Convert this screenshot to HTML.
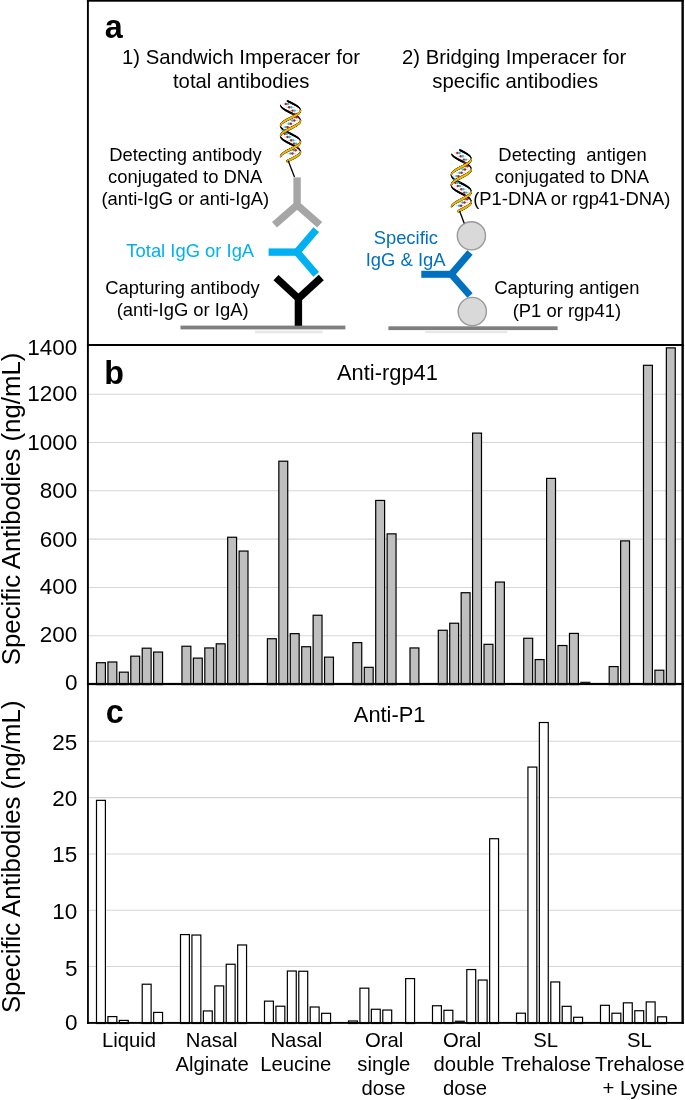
<!DOCTYPE html>
<html><head><meta charset="utf-8"><title>Figure</title>
<style>
html,body{margin:0;padding:0;background:#fff;}
body{width:685px;height:1100px;overflow:hidden;font-family:"Liberation Sans",sans-serif;}
svg{display:block;will-change:transform;}
</style></head><body>
<svg width="685" height="1100" viewBox="0 0 685 1100">
<rect width="685" height="1100" fill="#fff"/>
<line x1="88.0" x2="682.6" y1="635.70" y2="635.70" stroke="#d6d6d6" stroke-width="1.05"/>
<line x1="88.0" x2="682.6" y1="587.40" y2="587.40" stroke="#d6d6d6" stroke-width="1.05"/>
<line x1="88.0" x2="682.6" y1="539.10" y2="539.10" stroke="#d6d6d6" stroke-width="1.05"/>
<line x1="88.0" x2="682.6" y1="490.80" y2="490.80" stroke="#d6d6d6" stroke-width="1.05"/>
<line x1="88.0" x2="682.6" y1="442.50" y2="442.50" stroke="#d6d6d6" stroke-width="1.05"/>
<line x1="88.0" x2="682.6" y1="394.20" y2="394.20" stroke="#d6d6d6" stroke-width="1.05"/>
<line x1="88.0" x2="682.6" y1="966.50" y2="966.50" stroke="#d6d6d6" stroke-width="1.05"/>
<line x1="88.0" x2="682.6" y1="910.20" y2="910.20" stroke="#d6d6d6" stroke-width="1.05"/>
<line x1="88.0" x2="682.6" y1="853.90" y2="853.90" stroke="#d6d6d6" stroke-width="1.05"/>
<line x1="88.0" x2="682.6" y1="797.60" y2="797.60" stroke="#d6d6d6" stroke-width="1.05"/>
<line x1="88.0" x2="682.6" y1="741.30" y2="741.30" stroke="#d6d6d6" stroke-width="1.05"/>
<rect x="96.50" y="662.72" width="8.90" height="21.88" fill="#bfbfbf" stroke="#000" stroke-width="1.2"/>
<rect x="107.93" y="661.99" width="8.90" height="22.61" fill="#bfbfbf" stroke="#000" stroke-width="1.2"/>
<rect x="119.36" y="672.16" width="8.90" height="12.44" fill="#bfbfbf" stroke="#000" stroke-width="1.2"/>
<rect x="130.79" y="656.18" width="8.90" height="28.42" fill="#bfbfbf" stroke="#000" stroke-width="1.2"/>
<rect x="142.22" y="648.19" width="8.90" height="36.41" fill="#bfbfbf" stroke="#000" stroke-width="1.2"/>
<rect x="153.65" y="652.06" width="8.90" height="32.54" fill="#bfbfbf" stroke="#000" stroke-width="1.2"/>
<rect x="181.95" y="646.25" width="8.90" height="38.35" fill="#bfbfbf" stroke="#000" stroke-width="1.2"/>
<rect x="193.38" y="658.12" width="8.90" height="26.48" fill="#bfbfbf" stroke="#000" stroke-width="1.2"/>
<rect x="204.81" y="647.94" width="8.90" height="36.66" fill="#bfbfbf" stroke="#000" stroke-width="1.2"/>
<rect x="216.24" y="643.83" width="8.90" height="40.77" fill="#bfbfbf" stroke="#000" stroke-width="1.2"/>
<rect x="227.67" y="537.26" width="8.90" height="147.34" fill="#bfbfbf" stroke="#000" stroke-width="1.2"/>
<rect x="239.10" y="551.06" width="8.90" height="133.54" fill="#bfbfbf" stroke="#000" stroke-width="1.2"/>
<rect x="267.40" y="638.74" width="8.90" height="45.86" fill="#bfbfbf" stroke="#000" stroke-width="1.2"/>
<rect x="278.83" y="461.21" width="8.90" height="223.39" fill="#bfbfbf" stroke="#000" stroke-width="1.2"/>
<rect x="290.26" y="633.65" width="8.90" height="50.95" fill="#bfbfbf" stroke="#000" stroke-width="1.2"/>
<rect x="301.69" y="646.73" width="8.90" height="37.87" fill="#bfbfbf" stroke="#000" stroke-width="1.2"/>
<rect x="313.12" y="615.25" width="8.90" height="69.35" fill="#bfbfbf" stroke="#000" stroke-width="1.2"/>
<rect x="324.55" y="657.15" width="8.90" height="27.45" fill="#bfbfbf" stroke="#000" stroke-width="1.2"/>
<rect x="352.85" y="642.62" width="8.90" height="41.99" fill="#bfbfbf" stroke="#000" stroke-width="1.2"/>
<rect x="364.28" y="667.32" width="8.90" height="17.28" fill="#bfbfbf" stroke="#000" stroke-width="1.2"/>
<rect x="375.71" y="500.44" width="8.90" height="184.16" fill="#bfbfbf" stroke="#000" stroke-width="1.2"/>
<rect x="387.14" y="533.87" width="8.90" height="150.73" fill="#bfbfbf" stroke="#000" stroke-width="1.2"/>
<rect x="410.00" y="647.94" width="8.90" height="36.66" fill="#bfbfbf" stroke="#000" stroke-width="1.2"/>
<rect x="438.30" y="630.26" width="8.90" height="54.34" fill="#bfbfbf" stroke="#000" stroke-width="1.2"/>
<rect x="449.73" y="623.24" width="8.90" height="61.36" fill="#bfbfbf" stroke="#000" stroke-width="1.2"/>
<rect x="461.16" y="592.72" width="8.90" height="91.88" fill="#bfbfbf" stroke="#000" stroke-width="1.2"/>
<rect x="472.59" y="433.11" width="8.90" height="251.49" fill="#bfbfbf" stroke="#000" stroke-width="1.2"/>
<rect x="484.02" y="644.31" width="8.90" height="40.29" fill="#bfbfbf" stroke="#000" stroke-width="1.2"/>
<rect x="495.45" y="582.06" width="8.90" height="102.54" fill="#bfbfbf" stroke="#000" stroke-width="1.2"/>
<rect x="523.75" y="638.26" width="8.90" height="46.34" fill="#bfbfbf" stroke="#000" stroke-width="1.2"/>
<rect x="535.18" y="659.57" width="8.90" height="25.03" fill="#bfbfbf" stroke="#000" stroke-width="1.2"/>
<rect x="546.61" y="478.40" width="8.90" height="206.20" fill="#bfbfbf" stroke="#000" stroke-width="1.2"/>
<rect x="558.04" y="645.52" width="8.90" height="39.08" fill="#bfbfbf" stroke="#000" stroke-width="1.2"/>
<rect x="569.47" y="633.41" width="8.90" height="51.19" fill="#bfbfbf" stroke="#000" stroke-width="1.2"/>
<rect x="580.30" y="681.70" width="10.1" height="1.5" fill="#222"/>
<rect x="609.20" y="666.59" width="8.90" height="18.01" fill="#bfbfbf" stroke="#000" stroke-width="1.2"/>
<rect x="620.63" y="540.89" width="8.90" height="143.71" fill="#bfbfbf" stroke="#000" stroke-width="1.2"/>
<rect x="643.49" y="365.30" width="8.90" height="319.30" fill="#bfbfbf" stroke="#000" stroke-width="1.2"/>
<rect x="654.92" y="670.23" width="8.90" height="14.37" fill="#bfbfbf" stroke="#000" stroke-width="1.2"/>
<rect x="666.35" y="347.86" width="8.90" height="336.74" fill="#bfbfbf" stroke="#000" stroke-width="1.2"/>
<rect x="96.50" y="800.36" width="8.90" height="223.14" fill="#ffffff" stroke="#000" stroke-width="1.2"/>
<rect x="107.93" y="1016.59" width="8.90" height="6.91" fill="#ffffff" stroke="#000" stroke-width="1.2"/>
<rect x="119.36" y="1020.43" width="8.90" height="3.07" fill="#ffffff" stroke="#000" stroke-width="1.2"/>
<rect x="142.22" y="984.22" width="8.90" height="39.28" fill="#ffffff" stroke="#000" stroke-width="1.2"/>
<rect x="153.65" y="1012.42" width="8.90" height="11.08" fill="#ffffff" stroke="#000" stroke-width="1.2"/>
<rect x="180.50" y="934.59" width="8.90" height="88.91" fill="#ffffff" stroke="#000" stroke-width="1.2"/>
<rect x="191.93" y="935.04" width="8.90" height="88.46" fill="#ffffff" stroke="#000" stroke-width="1.2"/>
<rect x="203.36" y="1010.95" width="8.90" height="12.55" fill="#ffffff" stroke="#000" stroke-width="1.2"/>
<rect x="214.79" y="985.91" width="8.90" height="37.59" fill="#ffffff" stroke="#000" stroke-width="1.2"/>
<rect x="226.22" y="964.25" width="8.90" height="59.25" fill="#ffffff" stroke="#000" stroke-width="1.2"/>
<rect x="237.65" y="944.97" width="8.90" height="78.53" fill="#ffffff" stroke="#000" stroke-width="1.2"/>
<rect x="264.50" y="1001.14" width="8.90" height="22.36" fill="#ffffff" stroke="#000" stroke-width="1.2"/>
<rect x="275.93" y="1006.22" width="8.90" height="17.28" fill="#ffffff" stroke="#000" stroke-width="1.2"/>
<rect x="287.36" y="971.02" width="8.90" height="52.48" fill="#ffffff" stroke="#000" stroke-width="1.2"/>
<rect x="298.79" y="971.25" width="8.90" height="52.25" fill="#ffffff" stroke="#000" stroke-width="1.2"/>
<rect x="310.22" y="1007.01" width="8.90" height="16.49" fill="#ffffff" stroke="#000" stroke-width="1.2"/>
<rect x="321.65" y="1013.32" width="8.90" height="10.18" fill="#ffffff" stroke="#000" stroke-width="1.2"/>
<rect x="348.50" y="1020.99" width="8.90" height="2.51" fill="#ffffff" stroke="#000" stroke-width="1.2"/>
<rect x="359.93" y="988.17" width="8.90" height="35.33" fill="#ffffff" stroke="#000" stroke-width="1.2"/>
<rect x="371.36" y="1009.26" width="8.90" height="14.24" fill="#ffffff" stroke="#000" stroke-width="1.2"/>
<rect x="382.79" y="1010.05" width="8.90" height="13.45" fill="#ffffff" stroke="#000" stroke-width="1.2"/>
<rect x="405.65" y="978.58" width="8.90" height="44.92" fill="#ffffff" stroke="#000" stroke-width="1.2"/>
<rect x="432.50" y="1005.76" width="8.90" height="17.74" fill="#ffffff" stroke="#000" stroke-width="1.2"/>
<rect x="443.93" y="1010.28" width="8.90" height="13.22" fill="#ffffff" stroke="#000" stroke-width="1.2"/>
<rect x="454.76" y="1020.60" width="10.1" height="1.5" fill="#222"/>
<rect x="466.79" y="969.56" width="8.90" height="53.94" fill="#ffffff" stroke="#000" stroke-width="1.2"/>
<rect x="478.22" y="980.05" width="8.90" height="43.45" fill="#ffffff" stroke="#000" stroke-width="1.2"/>
<rect x="489.65" y="838.71" width="8.90" height="184.79" fill="#ffffff" stroke="#000" stroke-width="1.2"/>
<rect x="516.50" y="1013.21" width="8.90" height="10.29" fill="#ffffff" stroke="#000" stroke-width="1.2"/>
<rect x="527.93" y="767.08" width="8.90" height="256.42" fill="#ffffff" stroke="#000" stroke-width="1.2"/>
<rect x="539.36" y="722.52" width="8.90" height="300.98" fill="#ffffff" stroke="#000" stroke-width="1.2"/>
<rect x="550.79" y="981.96" width="8.90" height="41.54" fill="#ffffff" stroke="#000" stroke-width="1.2"/>
<rect x="562.22" y="1006.33" width="8.90" height="17.17" fill="#ffffff" stroke="#000" stroke-width="1.2"/>
<rect x="573.65" y="1017.27" width="8.90" height="6.23" fill="#ffffff" stroke="#000" stroke-width="1.2"/>
<rect x="600.50" y="1005.31" width="8.90" height="18.19" fill="#ffffff" stroke="#000" stroke-width="1.2"/>
<rect x="611.93" y="1013.21" width="8.90" height="10.29" fill="#ffffff" stroke="#000" stroke-width="1.2"/>
<rect x="623.36" y="1002.83" width="8.90" height="20.67" fill="#ffffff" stroke="#000" stroke-width="1.2"/>
<rect x="634.79" y="1010.73" width="8.90" height="12.77" fill="#ffffff" stroke="#000" stroke-width="1.2"/>
<rect x="646.22" y="1001.93" width="8.90" height="21.57" fill="#ffffff" stroke="#000" stroke-width="1.2"/>
<rect x="657.65" y="1016.82" width="8.90" height="6.68" fill="#ffffff" stroke="#000" stroke-width="1.2"/>
<rect x="86.9" y="0" width="597.00" height="1.7" fill="#000"/>
<rect x="86.95" y="0" width="1.9" height="684.0" fill="#000"/>
<rect x="87.05" y="684.0" width="1.8" height="339.85" fill="#000"/>
<rect x="681.45" y="0" width="2.4" height="1023.85" fill="#000"/>
<rect x="86.95" y="344.00" width="596.90" height="2.0" fill="#000"/>
<rect x="86.95" y="682.90" width="596.90" height="2.2" fill="#000"/>
<rect x="86.95" y="1021.95" width="596.90" height="1.9" fill="#000"/>
<text x="77.4" y="355" font-size="22.5" text-anchor="end" font-family="Liberation Sans, sans-serif">1400</text>
<text x="77.4" y="401" font-size="22.5" text-anchor="end" font-family="Liberation Sans, sans-serif">1200</text>
<text x="77.4" y="450" font-size="22.5" text-anchor="end" font-family="Liberation Sans, sans-serif">1000</text>
<text x="77.4" y="498" font-size="22.5" text-anchor="end" font-family="Liberation Sans, sans-serif">800</text>
<text x="77.4" y="547" font-size="22.5" text-anchor="end" font-family="Liberation Sans, sans-serif">600</text>
<text x="77.4" y="594" font-size="22.5" text-anchor="end" font-family="Liberation Sans, sans-serif">400</text>
<text x="77.4" y="642" font-size="22.5" text-anchor="end" font-family="Liberation Sans, sans-serif">200</text>
<text x="77.4" y="690" font-size="22.5" text-anchor="end" font-family="Liberation Sans, sans-serif">0</text>
<text x="77.4" y="750" font-size="22.5" text-anchor="end" font-family="Liberation Sans, sans-serif">25</text>
<text x="77.4" y="806" font-size="22.5" text-anchor="end" font-family="Liberation Sans, sans-serif">20</text>
<text x="77.4" y="862" font-size="22.5" text-anchor="end" font-family="Liberation Sans, sans-serif">15</text>
<text x="77.4" y="919" font-size="22.5" text-anchor="end" font-family="Liberation Sans, sans-serif">10</text>
<text x="77.4" y="976" font-size="22.5" text-anchor="end" font-family="Liberation Sans, sans-serif">5</text>
<text x="77.4" y="1030" font-size="22.5" text-anchor="end" font-family="Liberation Sans, sans-serif">0</text>
<text transform="translate(20.2,508.9) rotate(-90)" font-size="25.8" text-anchor="middle" font-family="Liberation Sans, sans-serif">Specific Antibodies (ng/mL)</text>
<text transform="translate(19.6,856.8) rotate(-90)" font-size="25.8" text-anchor="middle" font-family="Liberation Sans, sans-serif">Specific Antibodies (ng/mL)</text>
<text x="104.77" y="38.3" font-size="32.3" fill="#000" font-weight="bold" font-family="Liberation Sans, sans-serif" style="white-space:pre">a</text>
<text x="104.28" y="383.9" font-size="32.3" fill="#000" font-weight="bold" font-family="Liberation Sans, sans-serif" style="white-space:pre">b</text>
<text x="105.66" y="723.3" font-size="32.3" fill="#000" font-weight="bold" font-family="Liberation Sans, sans-serif" style="white-space:pre">c</text>
<text x="337.05" y="379.8" font-size="21.85" fill="#000" font-family="Liberation Sans, sans-serif" style="white-space:pre">Anti-rgp41</text>
<text x="353.83" y="722.3" font-size="21.85" fill="#000" font-family="Liberation Sans, sans-serif" style="white-space:pre">Anti-P1</text>
<text x="101.92" y="1046.6" font-size="20.3" fill="#000" font-family="Liberation Sans, sans-serif" style="white-space:pre">Liquid</text>
<text x="185.77" y="1046.6" font-size="20.3" fill="#000" font-family="Liberation Sans, sans-serif" style="white-space:pre">Nasal</text>
<text x="175.44" y="1071.2" font-size="20.3" fill="#000" font-family="Liberation Sans, sans-serif" style="white-space:pre">Alginate</text>
<text x="270.47" y="1046.6" font-size="20.3" fill="#000" font-family="Liberation Sans, sans-serif" style="white-space:pre">Nasal</text>
<text x="260.20" y="1071.2" font-size="20.3" fill="#000" font-family="Liberation Sans, sans-serif" style="white-space:pre">Leucine</text>
<text x="365.05" y="1046.6" font-size="20.3" fill="#000" font-family="Liberation Sans, sans-serif" style="white-space:pre">Oral</text>
<text x="357.34" y="1071.2" font-size="20.3" fill="#000" font-family="Liberation Sans, sans-serif" style="white-space:pre">single</text>
<text x="361.45" y="1095.0" font-size="20.3" fill="#000" font-family="Liberation Sans, sans-serif" style="white-space:pre">dose</text>
<text x="442.95" y="1046.6" font-size="20.3" fill="#000" font-family="Liberation Sans, sans-serif" style="white-space:pre">Oral</text>
<text x="433.58" y="1071.2" font-size="20.3" fill="#000" font-family="Liberation Sans, sans-serif" style="white-space:pre">double</text>
<text x="442.95" y="1095.0" font-size="20.3" fill="#000" font-family="Liberation Sans, sans-serif" style="white-space:pre">dose</text>
<text x="533.34" y="1046.6" font-size="20.3" fill="#000" font-family="Liberation Sans, sans-serif" style="white-space:pre">SL</text>
<text x="501.61" y="1071.2" font-size="20.3" fill="#000" font-family="Liberation Sans, sans-serif" style="white-space:pre">Trehalose</text>
<text x="627.09" y="1046.6" font-size="20.3" fill="#000" font-family="Liberation Sans, sans-serif" style="white-space:pre">SL</text>
<text x="595.06" y="1071.2" font-size="20.3" fill="#000" font-family="Liberation Sans, sans-serif" style="white-space:pre">Trehalose</text>
<text x="602.45" y="1095.0" font-size="20.3" fill="#000" font-family="Liberation Sans, sans-serif" style="white-space:pre">+ Lysine</text>
<text x="122.09" y="64" font-size="20.3" fill="#000" font-family="Liberation Sans, sans-serif" style="white-space:pre">1) Sandwich Imperacer for</text>
<text x="172.97" y="88" font-size="20.3" fill="#000" font-family="Liberation Sans, sans-serif" style="white-space:pre">total antibodies</text>
<text x="402.06" y="64" font-size="20.3" fill="#000" font-family="Liberation Sans, sans-serif" style="white-space:pre">2) Bridging Imperacer for</text>
<text x="432.31" y="88" font-size="20.3" fill="#000" font-family="Liberation Sans, sans-serif" style="white-space:pre">specific antibodies</text>
<text x="109.26" y="160.8" font-size="18.4" fill="#000" font-family="Liberation Sans, sans-serif" style="white-space:pre">Detecting antibody</text>
<text x="108.03" y="183.2" font-size="18.4" fill="#000" font-family="Liberation Sans, sans-serif" style="white-space:pre">conjugated to DNA</text>
<text x="101.48" y="205.2" font-size="18.4" fill="#000" font-family="Liberation Sans, sans-serif" style="white-space:pre">(anti-IgG or anti-IgA)</text>
<text x="126.37" y="257" font-size="18.4" fill="#00b0f0" font-family="Liberation Sans, sans-serif" style="white-space:pre">Total IgG or IgA</text>
<text x="105.31" y="294.4" font-size="18.4" fill="#000" font-family="Liberation Sans, sans-serif" style="white-space:pre">Capturing antibody</text>
<text x="116.73" y="316.4" font-size="18.4" fill="#000" font-family="Liberation Sans, sans-serif" style="white-space:pre">(anti-IgG or IgA)</text>
<text x="498.37" y="161.1" font-size="18.4" fill="#000" font-family="Liberation Sans, sans-serif" style="white-space:pre">Detecting  antigen</text>
<text x="494.78" y="182.8" font-size="18.4" fill="#000" font-family="Liberation Sans, sans-serif" style="white-space:pre">conjugated to DNA</text>
<text x="473.16" y="204.8" font-size="18.4" fill="#000" font-family="Liberation Sans, sans-serif" style="white-space:pre">(P1-DNA or rgp41-DNA)</text>
<text x="494.23" y="294.4" font-size="18.4" fill="#000" font-family="Liberation Sans, sans-serif" style="white-space:pre">Capturing antigen</text>
<text x="512.73" y="316.6" font-size="18.4" fill="#000" font-family="Liberation Sans, sans-serif" style="white-space:pre">(P1 or rgp41)</text>
<text x="373.65" y="243.6" font-size="18.4" fill="#0070c0" font-family="Liberation Sans, sans-serif" style="white-space:pre">Specific</text>
<text x="365.76" y="265.8" font-size="18.4" fill="#0070c0" font-family="Liberation Sans, sans-serif" style="white-space:pre">IgG &amp; IgA</text>
<rect x="180.5" y="325.6" width="164.9" height="3.8" fill="#7f7f7f"/>
<rect x="255" y="330.6" width="67.5" height="2.8" fill="#e8e8e8"/>
<rect x="388.4" y="326.3" width="169.2" height="3.8" fill="#7f7f7f"/>
<rect x="425.2" y="331" width="82" height="2.2" fill="#e8e8e8"/>
<line x1="297.1" y1="177.4" x2="297.1" y2="207.5" stroke="#a6a6a6" stroke-width="7.4"/>
<line x1="297.1" y1="205.0" x2="274.5" y2="224.7" stroke="#a6a6a6" stroke-width="7.4"/>
<line x1="297.1" y1="205.0" x2="319.7" y2="224.7" stroke="#a6a6a6" stroke-width="7.4"/>
<line x1="268.6" y1="252.1" x2="299" y2="252.1" stroke="#00b0f0" stroke-width="7.4"/>
<line x1="297.0" y1="252.1" x2="316.2" y2="229.6" stroke="#00b0f0" stroke-width="7.4"/>
<line x1="297.0" y1="252.1" x2="316.2" y2="274.4" stroke="#00b0f0" stroke-width="7.4"/>
<line x1="298.4" y1="325.8" x2="298.4" y2="296" stroke="#000" stroke-width="7.4"/>
<line x1="298.4" y1="298.4" x2="276.0" y2="277.6" stroke="#000" stroke-width="7.4"/>
<line x1="298.4" y1="298.4" x2="321.3" y2="277.6" stroke="#000" stroke-width="7.4"/>
<line x1="421.3" y1="274.3" x2="453" y2="274.3" stroke="#0070c0" stroke-width="7.0"/>
<line x1="451.3" y1="274.3" x2="470" y2="252.4" stroke="#0070c0" stroke-width="7.0"/>
<line x1="451.3" y1="274.3" x2="470" y2="295.5" stroke="#0070c0" stroke-width="7.0"/>
<circle cx="471.4" cy="235.8" r="14.1" fill="#d9d9d9" stroke="#9a9a9a" stroke-width="1.4"/>
<circle cx="472.3" cy="311.5" r="14.1" fill="#d9d9d9" stroke="#9a9a9a" stroke-width="1.4"/>
<line x1="287.52" y1="101.00" x2="288.30" y2="101.40" stroke="#000" stroke-width="1.87" stroke-linecap="round"/>
<line x1="288.30" y1="101.40" x2="289.10" y2="101.80" stroke="#000" stroke-width="1.89" stroke-linecap="round"/>
<line x1="289.10" y1="101.80" x2="289.90" y2="102.20" stroke="#000" stroke-width="1.90" stroke-linecap="round"/>
<line x1="289.90" y1="102.20" x2="290.71" y2="102.60" stroke="#000" stroke-width="1.90" stroke-linecap="round"/>
<line x1="290.71" y1="102.60" x2="291.51" y2="103.00" stroke="#000" stroke-width="1.89" stroke-linecap="round"/>
<line x1="291.51" y1="103.00" x2="292.31" y2="103.40" stroke="#000" stroke-width="1.88" stroke-linecap="round"/>
<line x1="292.31" y1="103.40" x2="293.10" y2="103.81" stroke="#000" stroke-width="1.86" stroke-linecap="round"/>
<line x1="293.10" y1="103.81" x2="293.87" y2="104.21" stroke="#000" stroke-width="1.82" stroke-linecap="round"/>
<line x1="293.87" y1="104.21" x2="294.62" y2="104.61" stroke="#000" stroke-width="1.78" stroke-linecap="round"/>
<line x1="294.62" y1="104.61" x2="295.34" y2="105.01" stroke="#000" stroke-width="1.74" stroke-linecap="round"/>
<line x1="295.34" y1="105.01" x2="296.03" y2="105.41" stroke="#000" stroke-width="1.68" stroke-linecap="round"/>
<line x1="296.03" y1="105.41" x2="296.68" y2="105.81" stroke="#000" stroke-width="1.62" stroke-linecap="round"/>
<line x1="296.68" y1="105.81" x2="297.29" y2="106.21" stroke="#000" stroke-width="1.55" stroke-linecap="round"/>
<line x1="297.29" y1="106.21" x2="297.86" y2="106.61" stroke="#000" stroke-width="1.48" stroke-linecap="round"/>
<line x1="297.86" y1="106.61" x2="298.39" y2="107.01" stroke="#000" stroke-width="1.40" stroke-linecap="round"/>
<line x1="298.39" y1="107.01" x2="298.86" y2="107.41" stroke="#000" stroke-width="1.31" stroke-linecap="round"/>
<line x1="298.86" y1="107.41" x2="299.27" y2="107.81" stroke="#000" stroke-width="1.22" stroke-linecap="round"/>
<line x1="299.27" y1="107.81" x2="299.63" y2="108.21" stroke="#000" stroke-width="1.13" stroke-linecap="round"/>
<line x1="299.63" y1="108.21" x2="299.93" y2="108.61" stroke="#000" stroke-width="1.03" stroke-linecap="round"/>
<line x1="299.93" y1="108.61" x2="300.17" y2="109.01" stroke="#000" stroke-width="0.93" stroke-linecap="round"/>
<line x1="300.17" y1="109.01" x2="300.34" y2="109.42" stroke="#000" stroke-width="0.83" stroke-linecap="round"/>
<line x1="300.34" y1="109.42" x2="300.45" y2="109.82" stroke="#000" stroke-width="0.73" stroke-linecap="round"/>
<line x1="300.45" y1="109.82" x2="300.50" y2="110.22" stroke="#000" stroke-width="0.62" stroke-linecap="round"/>
<line x1="280.50" y1="125.84" x2="280.52" y2="126.25" stroke="#000" stroke-width="0.69" stroke-linecap="round"/>
<line x1="280.52" y1="126.25" x2="280.61" y2="126.65" stroke="#000" stroke-width="0.79" stroke-linecap="round"/>
<line x1="280.61" y1="126.65" x2="280.77" y2="127.05" stroke="#000" stroke-width="0.90" stroke-linecap="round"/>
<line x1="280.77" y1="127.05" x2="280.98" y2="127.45" stroke="#000" stroke-width="1.00" stroke-linecap="round"/>
<line x1="280.98" y1="127.45" x2="281.26" y2="127.85" stroke="#000" stroke-width="1.10" stroke-linecap="round"/>
<line x1="281.26" y1="127.85" x2="281.60" y2="128.25" stroke="#000" stroke-width="1.19" stroke-linecap="round"/>
<line x1="281.60" y1="128.25" x2="281.99" y2="128.65" stroke="#000" stroke-width="1.28" stroke-linecap="round"/>
<line x1="281.99" y1="128.65" x2="282.45" y2="129.05" stroke="#000" stroke-width="1.37" stroke-linecap="round"/>
<line x1="282.45" y1="129.05" x2="282.95" y2="129.45" stroke="#000" stroke-width="1.45" stroke-linecap="round"/>
<line x1="282.95" y1="129.45" x2="283.50" y2="129.85" stroke="#000" stroke-width="1.53" stroke-linecap="round"/>
<line x1="283.50" y1="129.85" x2="284.10" y2="130.25" stroke="#000" stroke-width="1.60" stroke-linecap="round"/>
<line x1="284.10" y1="130.25" x2="284.74" y2="130.65" stroke="#000" stroke-width="1.66" stroke-linecap="round"/>
<line x1="284.74" y1="130.65" x2="285.42" y2="131.05" stroke="#000" stroke-width="1.72" stroke-linecap="round"/>
<line x1="285.42" y1="131.05" x2="286.13" y2="131.45" stroke="#000" stroke-width="1.77" stroke-linecap="round"/>
<line x1="286.13" y1="131.45" x2="286.87" y2="131.86" stroke="#000" stroke-width="1.81" stroke-linecap="round"/>
<line x1="286.87" y1="131.86" x2="287.63" y2="132.26" stroke="#000" stroke-width="1.85" stroke-linecap="round"/>
<line x1="287.63" y1="132.26" x2="288.41" y2="132.66" stroke="#000" stroke-width="1.87" stroke-linecap="round"/>
<line x1="288.41" y1="132.66" x2="289.21" y2="133.06" stroke="#000" stroke-width="1.89" stroke-linecap="round"/>
<line x1="289.21" y1="133.06" x2="290.01" y2="133.46" stroke="#000" stroke-width="1.90" stroke-linecap="round"/>
<line x1="290.01" y1="133.46" x2="290.82" y2="133.86" stroke="#000" stroke-width="1.90" stroke-linecap="round"/>
<line x1="290.82" y1="133.86" x2="291.62" y2="134.26" stroke="#000" stroke-width="1.89" stroke-linecap="round"/>
<line x1="291.62" y1="134.26" x2="292.42" y2="134.66" stroke="#000" stroke-width="1.88" stroke-linecap="round"/>
<line x1="292.42" y1="134.66" x2="293.21" y2="135.06" stroke="#000" stroke-width="1.85" stroke-linecap="round"/>
<line x1="293.21" y1="135.06" x2="293.97" y2="135.46" stroke="#000" stroke-width="1.82" stroke-linecap="round"/>
<line x1="293.97" y1="135.46" x2="294.72" y2="135.86" stroke="#000" stroke-width="1.78" stroke-linecap="round"/>
<line x1="294.72" y1="135.86" x2="295.44" y2="136.26" stroke="#000" stroke-width="1.73" stroke-linecap="round"/>
<line x1="295.44" y1="136.26" x2="296.12" y2="136.66" stroke="#000" stroke-width="1.68" stroke-linecap="round"/>
<line x1="296.12" y1="136.66" x2="296.77" y2="137.06" stroke="#000" stroke-width="1.61" stroke-linecap="round"/>
<line x1="296.77" y1="137.06" x2="297.38" y2="137.47" stroke="#000" stroke-width="1.54" stroke-linecap="round"/>
<line x1="297.38" y1="137.47" x2="297.94" y2="137.87" stroke="#000" stroke-width="1.47" stroke-linecap="round"/>
<line x1="297.94" y1="137.87" x2="298.45" y2="138.27" stroke="#000" stroke-width="1.39" stroke-linecap="round"/>
<line x1="298.45" y1="138.27" x2="298.92" y2="138.67" stroke="#000" stroke-width="1.30" stroke-linecap="round"/>
<line x1="298.92" y1="138.67" x2="299.32" y2="139.07" stroke="#000" stroke-width="1.21" stroke-linecap="round"/>
<line x1="299.32" y1="139.07" x2="299.68" y2="139.47" stroke="#000" stroke-width="1.12" stroke-linecap="round"/>
<line x1="299.68" y1="139.47" x2="299.97" y2="139.87" stroke="#000" stroke-width="1.02" stroke-linecap="round"/>
<line x1="299.97" y1="139.87" x2="300.20" y2="140.27" stroke="#000" stroke-width="0.92" stroke-linecap="round"/>
<line x1="300.20" y1="140.27" x2="300.36" y2="140.67" stroke="#000" stroke-width="0.82" stroke-linecap="round"/>
<line x1="300.36" y1="140.67" x2="300.46" y2="141.07" stroke="#000" stroke-width="0.71" stroke-linecap="round"/>
<line x1="300.46" y1="141.07" x2="300.50" y2="141.47" stroke="#000" stroke-width="0.61" stroke-linecap="round"/>
<line x1="280.50" y1="105.00" x2="280.55" y2="105.40" stroke="#000" stroke-width="0.73" stroke-linecap="round"/>
<line x1="280.55" y1="105.40" x2="280.66" y2="105.80" stroke="#000" stroke-width="0.84" stroke-linecap="round"/>
<line x1="280.66" y1="105.80" x2="280.84" y2="106.20" stroke="#000" stroke-width="0.94" stroke-linecap="round"/>
<line x1="280.84" y1="106.20" x2="281.08" y2="106.61" stroke="#000" stroke-width="1.04" stroke-linecap="round"/>
<line x1="281.08" y1="106.61" x2="281.39" y2="107.01" stroke="#000" stroke-width="1.14" stroke-linecap="round"/>
<line x1="281.39" y1="107.01" x2="281.75" y2="107.41" stroke="#000" stroke-width="1.23" stroke-linecap="round"/>
<line x1="281.75" y1="107.41" x2="282.17" y2="107.81" stroke="#000" stroke-width="1.32" stroke-linecap="round"/>
<line x1="282.17" y1="107.81" x2="282.64" y2="108.21" stroke="#000" stroke-width="1.40" stroke-linecap="round"/>
<line x1="282.64" y1="108.21" x2="283.17" y2="108.61" stroke="#000" stroke-width="1.48" stroke-linecap="round"/>
<line x1="283.17" y1="108.61" x2="283.74" y2="109.01" stroke="#000" stroke-width="1.56" stroke-linecap="round"/>
<line x1="283.74" y1="109.01" x2="284.36" y2="109.42" stroke="#000" stroke-width="1.63" stroke-linecap="round"/>
<line x1="284.36" y1="109.42" x2="285.02" y2="109.82" stroke="#000" stroke-width="1.69" stroke-linecap="round"/>
<line x1="285.02" y1="109.82" x2="285.71" y2="110.22" stroke="#000" stroke-width="1.74" stroke-linecap="round"/>
<line x1="285.71" y1="110.22" x2="286.43" y2="110.62" stroke="#000" stroke-width="1.79" stroke-linecap="round"/>
<line x1="286.43" y1="110.62" x2="287.18" y2="111.02" stroke="#000" stroke-width="1.83" stroke-linecap="round"/>
<line x1="287.18" y1="111.02" x2="287.96" y2="111.42" stroke="#000" stroke-width="1.86" stroke-linecap="round"/>
<line x1="287.96" y1="111.42" x2="288.75" y2="111.82" stroke="#000" stroke-width="1.88" stroke-linecap="round"/>
<line x1="288.75" y1="111.82" x2="289.55" y2="112.23" stroke="#000" stroke-width="1.89" stroke-linecap="round"/>
<line x1="289.55" y1="112.23" x2="290.35" y2="112.63" stroke="#000" stroke-width="1.90" stroke-linecap="round"/>
<line x1="290.35" y1="112.63" x2="291.16" y2="113.03" stroke="#000" stroke-width="1.90" stroke-linecap="round"/>
<line x1="291.16" y1="113.03" x2="291.96" y2="113.43" stroke="#000" stroke-width="1.89" stroke-linecap="round"/>
<line x1="291.96" y1="113.43" x2="292.76" y2="113.83" stroke="#000" stroke-width="1.87" stroke-linecap="round"/>
<line x1="292.76" y1="113.83" x2="293.54" y2="114.23" stroke="#000" stroke-width="1.84" stroke-linecap="round"/>
<line x1="293.54" y1="114.23" x2="294.30" y2="114.63" stroke="#000" stroke-width="1.80" stroke-linecap="round"/>
<line x1="294.30" y1="114.63" x2="295.03" y2="115.04" stroke="#000" stroke-width="1.76" stroke-linecap="round"/>
<line x1="295.03" y1="115.04" x2="295.74" y2="115.44" stroke="#000" stroke-width="1.71" stroke-linecap="round"/>
<line x1="295.74" y1="115.44" x2="296.41" y2="115.84" stroke="#000" stroke-width="1.65" stroke-linecap="round"/>
<line x1="296.41" y1="115.84" x2="297.04" y2="116.24" stroke="#000" stroke-width="1.58" stroke-linecap="round"/>
<line x1="297.04" y1="116.24" x2="297.63" y2="116.64" stroke="#000" stroke-width="1.51" stroke-linecap="round"/>
<line x1="297.63" y1="116.64" x2="298.17" y2="117.04" stroke="#000" stroke-width="1.43" stroke-linecap="round"/>
<line x1="298.17" y1="117.04" x2="298.67" y2="117.44" stroke="#000" stroke-width="1.35" stroke-linecap="round"/>
<line x1="298.67" y1="117.44" x2="299.11" y2="117.85" stroke="#000" stroke-width="1.26" stroke-linecap="round"/>
<line x1="299.11" y1="117.85" x2="299.49" y2="118.25" stroke="#000" stroke-width="1.17" stroke-linecap="round"/>
<line x1="299.49" y1="118.25" x2="299.81" y2="118.65" stroke="#000" stroke-width="1.07" stroke-linecap="round"/>
<line x1="299.81" y1="118.65" x2="300.08" y2="119.05" stroke="#000" stroke-width="0.97" stroke-linecap="round"/>
<line x1="300.08" y1="119.05" x2="300.28" y2="119.45" stroke="#000" stroke-width="0.87" stroke-linecap="round"/>
<line x1="300.28" y1="119.45" x2="300.42" y2="119.85" stroke="#000" stroke-width="0.77" stroke-linecap="round"/>
<line x1="300.42" y1="119.85" x2="300.49" y2="120.25" stroke="#000" stroke-width="0.66" stroke-linecap="round"/>
<line x1="280.51" y1="135.91" x2="280.51" y2="136.31" stroke="#000" stroke-width="0.66" stroke-linecap="round"/>
<line x1="280.51" y1="136.31" x2="280.58" y2="136.71" stroke="#000" stroke-width="0.76" stroke-linecap="round"/>
<line x1="280.58" y1="136.71" x2="280.71" y2="137.11" stroke="#000" stroke-width="0.86" stroke-linecap="round"/>
<line x1="280.71" y1="137.11" x2="280.90" y2="137.52" stroke="#000" stroke-width="0.97" stroke-linecap="round"/>
<line x1="280.90" y1="137.52" x2="281.16" y2="137.92" stroke="#000" stroke-width="1.07" stroke-linecap="round"/>
<line x1="281.16" y1="137.92" x2="281.48" y2="138.32" stroke="#000" stroke-width="1.16" stroke-linecap="round"/>
<line x1="281.48" y1="138.32" x2="281.86" y2="138.72" stroke="#000" stroke-width="1.25" stroke-linecap="round"/>
<line x1="281.86" y1="138.72" x2="282.29" y2="139.12" stroke="#000" stroke-width="1.34" stroke-linecap="round"/>
<line x1="282.29" y1="139.12" x2="282.78" y2="139.52" stroke="#000" stroke-width="1.43" stroke-linecap="round"/>
<line x1="282.78" y1="139.52" x2="283.32" y2="139.92" stroke="#000" stroke-width="1.51" stroke-linecap="round"/>
<line x1="283.32" y1="139.92" x2="283.91" y2="140.33" stroke="#000" stroke-width="1.58" stroke-linecap="round"/>
<line x1="283.91" y1="140.33" x2="284.54" y2="140.73" stroke="#000" stroke-width="1.64" stroke-linecap="round"/>
<line x1="284.54" y1="140.73" x2="285.20" y2="141.13" stroke="#000" stroke-width="1.70" stroke-linecap="round"/>
<line x1="285.20" y1="141.13" x2="285.91" y2="141.53" stroke="#000" stroke-width="1.75" stroke-linecap="round"/>
<line x1="285.91" y1="141.53" x2="286.64" y2="141.93" stroke="#000" stroke-width="1.80" stroke-linecap="round"/>
<line x1="286.64" y1="141.93" x2="287.40" y2="142.33" stroke="#000" stroke-width="1.84" stroke-linecap="round"/>
<line x1="287.40" y1="142.33" x2="288.17" y2="142.73" stroke="#000" stroke-width="1.86" stroke-linecap="round"/>
<line x1="288.17" y1="142.73" x2="288.97" y2="143.14" stroke="#000" stroke-width="1.88" stroke-linecap="round"/>
<line x1="288.97" y1="143.14" x2="289.77" y2="143.54" stroke="#000" stroke-width="1.90" stroke-linecap="round"/>
<line x1="289.77" y1="143.54" x2="290.58" y2="143.94" stroke="#000" stroke-width="1.90" stroke-linecap="round"/>
<line x1="290.58" y1="143.94" x2="291.38" y2="144.34" stroke="#000" stroke-width="1.89" stroke-linecap="round"/>
<line x1="291.38" y1="144.34" x2="292.19" y2="144.74" stroke="#000" stroke-width="1.88" stroke-linecap="round"/>
<line x1="292.19" y1="144.74" x2="292.98" y2="145.14" stroke="#000" stroke-width="1.86" stroke-linecap="round"/>
<line x1="292.98" y1="145.14" x2="293.75" y2="145.54" stroke="#000" stroke-width="1.83" stroke-linecap="round"/>
<line x1="293.75" y1="145.54" x2="294.50" y2="145.95" stroke="#000" stroke-width="1.79" stroke-linecap="round"/>
<line x1="294.50" y1="145.95" x2="295.23" y2="146.35" stroke="#000" stroke-width="1.75" stroke-linecap="round"/>
<line x1="295.23" y1="146.35" x2="295.93" y2="146.75" stroke="#000" stroke-width="1.69" stroke-linecap="round"/>
<line x1="295.93" y1="146.75" x2="296.59" y2="147.15" stroke="#000" stroke-width="1.63" stroke-linecap="round"/>
<line x1="296.59" y1="147.15" x2="297.21" y2="147.55" stroke="#000" stroke-width="1.56" stroke-linecap="round"/>
<line x1="297.21" y1="147.55" x2="297.79" y2="147.95" stroke="#000" stroke-width="1.49" stroke-linecap="round"/>
<line x1="297.79" y1="147.95" x2="298.31" y2="148.35" stroke="#000" stroke-width="1.41" stroke-linecap="round"/>
<line x1="298.31" y1="148.35" x2="298.79" y2="148.76" stroke="#000" stroke-width="1.33" stroke-linecap="round"/>
<line x1="298.79" y1="148.76" x2="299.22" y2="149.16" stroke="#000" stroke-width="1.24" stroke-linecap="round"/>
<line x1="299.22" y1="149.16" x2="299.58" y2="149.56" stroke="#000" stroke-width="1.14" stroke-linecap="round"/>
<line x1="299.58" y1="149.56" x2="299.89" y2="149.96" stroke="#000" stroke-width="1.05" stroke-linecap="round"/>
<line x1="299.89" y1="149.96" x2="300.14" y2="150.36" stroke="#000" stroke-width="0.95" stroke-linecap="round"/>
<line x1="300.14" y1="150.36" x2="300.32" y2="150.76" stroke="#000" stroke-width="0.84" stroke-linecap="round"/>
<line x1="300.32" y1="150.76" x2="300.44" y2="151.16" stroke="#000" stroke-width="0.74" stroke-linecap="round"/>
<line x1="300.44" y1="151.16" x2="300.50" y2="151.57" stroke="#000" stroke-width="0.64" stroke-linecap="round"/>
<line x1="282.35" y1="104.00" x2="291.35" y2="104.00" stroke="#999" stroke-width="0.4"/>
<circle cx="285.85" cy="104.00" r="1.2" fill="#e01010"/>
<circle cx="287.85" cy="104.00" r="1.2" fill="#10c8d8"/>
<line x1="285.67" y1="107.30" x2="294.67" y2="107.30" stroke="#999" stroke-width="0.4"/>
<circle cx="289.17" cy="107.30" r="1.2" fill="#e01010"/>
<circle cx="291.17" cy="107.30" r="1.2" fill="#10c8d8"/>
<line x1="289.12" y1="110.60" x2="298.12" y2="110.60" stroke="#999" stroke-width="0.4"/>
<circle cx="292.62" cy="110.60" r="1.2" fill="#e01010"/>
<circle cx="294.62" cy="110.60" r="1.2" fill="#10c8d8"/>
<line x1="291.25" y1="113.90" x2="300.25" y2="113.90" stroke="#999" stroke-width="0.4"/>
<circle cx="294.75" cy="113.90" r="1.2" fill="#e01010"/>
<circle cx="296.75" cy="113.90" r="1.2" fill="#10c8d8"/>
<line x1="291.14" y1="117.20" x2="300.14" y2="117.20" stroke="#999" stroke-width="0.4"/>
<circle cx="294.64" cy="117.20" r="1.2" fill="#10c8d8"/>
<circle cx="296.64" cy="117.20" r="1.2" fill="#e01010"/>
<line x1="288.85" y1="120.50" x2="297.85" y2="120.50" stroke="#999" stroke-width="0.4"/>
<circle cx="292.35" cy="120.50" r="1.2" fill="#10c8d8"/>
<circle cx="294.35" cy="120.50" r="1.2" fill="#e01010"/>
<line x1="285.34" y1="123.80" x2="294.34" y2="123.80" stroke="#999" stroke-width="0.4"/>
<circle cx="288.84" cy="123.80" r="1.2" fill="#10c8d8"/>
<circle cx="290.84" cy="123.80" r="1.2" fill="#e01010"/>
<line x1="282.11" y1="127.10" x2="291.11" y2="127.10" stroke="#999" stroke-width="0.4"/>
<circle cx="285.61" cy="127.10" r="1.2" fill="#10c8d8"/>
<circle cx="287.61" cy="127.10" r="1.2" fill="#e01010"/>
<line x1="280.54" y1="130.40" x2="289.54" y2="130.40" stroke="#999" stroke-width="0.4"/>
<circle cx="284.04" cy="130.40" r="1.2" fill="#10c8d8"/>
<circle cx="286.04" cy="130.40" r="1.2" fill="#e01010"/>
<line x1="281.29" y1="133.70" x2="290.29" y2="133.70" stroke="#999" stroke-width="0.4"/>
<circle cx="284.79" cy="133.70" r="1.2" fill="#e01010"/>
<circle cx="286.79" cy="133.70" r="1.2" fill="#10c8d8"/>
<line x1="284.05" y1="137.00" x2="293.05" y2="137.00" stroke="#999" stroke-width="0.4"/>
<circle cx="287.55" cy="137.00" r="1.2" fill="#e01010"/>
<circle cx="289.55" cy="137.00" r="1.2" fill="#10c8d8"/>
<line x1="287.64" y1="140.30" x2="296.64" y2="140.30" stroke="#999" stroke-width="0.4"/>
<circle cx="291.14" cy="140.30" r="1.2" fill="#e01010"/>
<circle cx="293.14" cy="140.30" r="1.2" fill="#10c8d8"/>
<line x1="290.53" y1="143.60" x2="299.53" y2="143.60" stroke="#999" stroke-width="0.4"/>
<circle cx="294.03" cy="143.60" r="1.2" fill="#e01010"/>
<circle cx="296.03" cy="143.60" r="1.2" fill="#10c8d8"/>
<line x1="291.49" y1="146.90" x2="300.49" y2="146.90" stroke="#999" stroke-width="0.4"/>
<circle cx="294.99" cy="146.90" r="1.2" fill="#10c8d8"/>
<circle cx="296.99" cy="146.90" r="1.2" fill="#e01010"/>
<line x1="290.12" y1="150.20" x2="299.12" y2="150.20" stroke="#999" stroke-width="0.4"/>
<circle cx="293.62" cy="150.20" r="1.2" fill="#10c8d8"/>
<circle cx="295.62" cy="150.20" r="1.2" fill="#e01010"/>
<line x1="286.99" y1="153.50" x2="295.99" y2="153.50" stroke="#999" stroke-width="0.4"/>
<circle cx="290.49" cy="153.50" r="1.2" fill="#10c8d8"/>
<circle cx="292.49" cy="153.50" r="1.2" fill="#e01010"/>
<line x1="300.50" y1="110.22" x2="300.48" y2="110.62" stroke="#3a2a00" stroke-width="1.38" stroke-linecap="round"/>
<line x1="300.48" y1="110.62" x2="300.40" y2="111.02" stroke="#3a2a00" stroke-width="1.47" stroke-linecap="round"/>
<line x1="300.40" y1="111.02" x2="300.25" y2="111.42" stroke="#3a2a00" stroke-width="1.57" stroke-linecap="round"/>
<line x1="300.25" y1="111.42" x2="300.04" y2="111.82" stroke="#3a2a00" stroke-width="1.66" stroke-linecap="round"/>
<line x1="300.04" y1="111.82" x2="299.76" y2="112.22" stroke="#3a2a00" stroke-width="1.75" stroke-linecap="round"/>
<line x1="299.76" y1="112.22" x2="299.43" y2="112.62" stroke="#3a2a00" stroke-width="1.84" stroke-linecap="round"/>
<line x1="299.43" y1="112.62" x2="299.04" y2="113.02" stroke="#3a2a00" stroke-width="1.93" stroke-linecap="round"/>
<line x1="299.04" y1="113.02" x2="298.59" y2="113.42" stroke="#3a2a00" stroke-width="2.01" stroke-linecap="round"/>
<line x1="298.59" y1="113.42" x2="298.09" y2="113.82" stroke="#3a2a00" stroke-width="2.08" stroke-linecap="round"/>
<line x1="298.09" y1="113.82" x2="297.54" y2="114.22" stroke="#3a2a00" stroke-width="2.15" stroke-linecap="round"/>
<line x1="297.54" y1="114.22" x2="296.94" y2="114.62" stroke="#3a2a00" stroke-width="2.22" stroke-linecap="round"/>
<line x1="296.94" y1="114.62" x2="296.30" y2="115.03" stroke="#3a2a00" stroke-width="2.28" stroke-linecap="round"/>
<line x1="296.30" y1="115.03" x2="295.63" y2="115.43" stroke="#3a2a00" stroke-width="2.33" stroke-linecap="round"/>
<line x1="295.63" y1="115.43" x2="294.92" y2="115.83" stroke="#3a2a00" stroke-width="2.38" stroke-linecap="round"/>
<line x1="294.92" y1="115.83" x2="294.18" y2="116.23" stroke="#3a2a00" stroke-width="2.42" stroke-linecap="round"/>
<line x1="294.18" y1="116.23" x2="293.42" y2="116.63" stroke="#3a2a00" stroke-width="2.45" stroke-linecap="round"/>
<line x1="293.42" y1="116.63" x2="292.64" y2="117.03" stroke="#3a2a00" stroke-width="2.47" stroke-linecap="round"/>
<line x1="292.64" y1="117.03" x2="291.85" y2="117.43" stroke="#3a2a00" stroke-width="2.49" stroke-linecap="round"/>
<line x1="291.85" y1="117.43" x2="291.04" y2="117.83" stroke="#3a2a00" stroke-width="2.50" stroke-linecap="round"/>
<line x1="291.04" y1="117.83" x2="290.24" y2="118.23" stroke="#3a2a00" stroke-width="2.50" stroke-linecap="round"/>
<line x1="290.24" y1="118.23" x2="289.43" y2="118.63" stroke="#3a2a00" stroke-width="2.49" stroke-linecap="round"/>
<line x1="289.43" y1="118.63" x2="288.63" y2="119.03" stroke="#3a2a00" stroke-width="2.48" stroke-linecap="round"/>
<line x1="288.63" y1="119.03" x2="287.85" y2="119.43" stroke="#3a2a00" stroke-width="2.46" stroke-linecap="round"/>
<line x1="287.85" y1="119.43" x2="287.08" y2="119.83" stroke="#3a2a00" stroke-width="2.43" stroke-linecap="round"/>
<line x1="287.08" y1="119.83" x2="286.33" y2="120.23" stroke="#3a2a00" stroke-width="2.39" stroke-linecap="round"/>
<line x1="286.33" y1="120.23" x2="285.61" y2="120.64" stroke="#3a2a00" stroke-width="2.35" stroke-linecap="round"/>
<line x1="285.61" y1="120.64" x2="284.93" y2="121.04" stroke="#3a2a00" stroke-width="2.30" stroke-linecap="round"/>
<line x1="284.93" y1="121.04" x2="284.27" y2="121.44" stroke="#3a2a00" stroke-width="2.24" stroke-linecap="round"/>
<line x1="284.27" y1="121.44" x2="283.66" y2="121.84" stroke="#3a2a00" stroke-width="2.18" stroke-linecap="round"/>
<line x1="283.66" y1="121.84" x2="283.10" y2="122.24" stroke="#3a2a00" stroke-width="2.11" stroke-linecap="round"/>
<line x1="283.10" y1="122.24" x2="282.58" y2="122.64" stroke="#3a2a00" stroke-width="2.03" stroke-linecap="round"/>
<line x1="282.58" y1="122.64" x2="282.11" y2="123.04" stroke="#3a2a00" stroke-width="1.95" stroke-linecap="round"/>
<line x1="282.11" y1="123.04" x2="281.70" y2="123.44" stroke="#3a2a00" stroke-width="1.87" stroke-linecap="round"/>
<line x1="281.70" y1="123.44" x2="281.35" y2="123.84" stroke="#3a2a00" stroke-width="1.78" stroke-linecap="round"/>
<line x1="281.35" y1="123.84" x2="281.05" y2="124.24" stroke="#3a2a00" stroke-width="1.69" stroke-linecap="round"/>
<line x1="281.05" y1="124.24" x2="280.82" y2="124.64" stroke="#3a2a00" stroke-width="1.60" stroke-linecap="round"/>
<line x1="280.82" y1="124.64" x2="280.65" y2="125.04" stroke="#3a2a00" stroke-width="1.51" stroke-linecap="round"/>
<line x1="280.65" y1="125.04" x2="280.54" y2="125.44" stroke="#3a2a00" stroke-width="1.41" stroke-linecap="round"/>
<line x1="280.54" y1="125.44" x2="280.50" y2="125.84" stroke="#3a2a00" stroke-width="1.31" stroke-linecap="round"/>
<line x1="300.50" y1="141.47" x2="300.47" y2="141.87" stroke="#3a2a00" stroke-width="1.39" stroke-linecap="round"/>
<line x1="300.47" y1="141.87" x2="300.38" y2="142.27" stroke="#3a2a00" stroke-width="1.49" stroke-linecap="round"/>
<line x1="300.38" y1="142.27" x2="300.22" y2="142.67" stroke="#3a2a00" stroke-width="1.58" stroke-linecap="round"/>
<line x1="300.22" y1="142.67" x2="300.00" y2="143.08" stroke="#3a2a00" stroke-width="1.67" stroke-linecap="round"/>
<line x1="300.00" y1="143.08" x2="299.72" y2="143.48" stroke="#3a2a00" stroke-width="1.77" stroke-linecap="round"/>
<line x1="299.72" y1="143.48" x2="299.38" y2="143.88" stroke="#3a2a00" stroke-width="1.85" stroke-linecap="round"/>
<line x1="299.38" y1="143.88" x2="298.98" y2="144.28" stroke="#3a2a00" stroke-width="1.94" stroke-linecap="round"/>
<line x1="298.98" y1="144.28" x2="298.52" y2="144.68" stroke="#3a2a00" stroke-width="2.02" stroke-linecap="round"/>
<line x1="298.52" y1="144.68" x2="298.01" y2="145.08" stroke="#3a2a00" stroke-width="2.09" stroke-linecap="round"/>
<line x1="298.01" y1="145.08" x2="297.46" y2="145.48" stroke="#3a2a00" stroke-width="2.16" stroke-linecap="round"/>
<line x1="297.46" y1="145.48" x2="296.85" y2="145.88" stroke="#3a2a00" stroke-width="2.23" stroke-linecap="round"/>
<line x1="296.85" y1="145.88" x2="296.21" y2="146.28" stroke="#3a2a00" stroke-width="2.29" stroke-linecap="round"/>
<line x1="296.21" y1="146.28" x2="295.53" y2="146.68" stroke="#3a2a00" stroke-width="2.34" stroke-linecap="round"/>
<line x1="295.53" y1="146.68" x2="294.82" y2="147.08" stroke="#3a2a00" stroke-width="2.38" stroke-linecap="round"/>
<line x1="294.82" y1="147.08" x2="294.08" y2="147.48" stroke="#3a2a00" stroke-width="2.42" stroke-linecap="round"/>
<line x1="294.08" y1="147.48" x2="293.31" y2="147.88" stroke="#3a2a00" stroke-width="2.45" stroke-linecap="round"/>
<line x1="293.31" y1="147.88" x2="292.53" y2="148.28" stroke="#3a2a00" stroke-width="2.48" stroke-linecap="round"/>
<line x1="292.53" y1="148.28" x2="291.73" y2="148.69" stroke="#3a2a00" stroke-width="2.49" stroke-linecap="round"/>
<line x1="291.73" y1="148.69" x2="290.93" y2="149.09" stroke="#3a2a00" stroke-width="2.50" stroke-linecap="round"/>
<line x1="290.93" y1="149.09" x2="290.12" y2="149.49" stroke="#3a2a00" stroke-width="2.50" stroke-linecap="round"/>
<line x1="290.12" y1="149.49" x2="289.32" y2="149.89" stroke="#3a2a00" stroke-width="2.49" stroke-linecap="round"/>
<line x1="289.32" y1="149.89" x2="288.52" y2="150.29" stroke="#3a2a00" stroke-width="2.48" stroke-linecap="round"/>
<line x1="288.52" y1="150.29" x2="287.74" y2="150.69" stroke="#3a2a00" stroke-width="2.45" stroke-linecap="round"/>
<line x1="287.74" y1="150.69" x2="286.97" y2="151.09" stroke="#3a2a00" stroke-width="2.42" stroke-linecap="round"/>
<line x1="286.97" y1="151.09" x2="286.23" y2="151.49" stroke="#3a2a00" stroke-width="2.39" stroke-linecap="round"/>
<line x1="286.23" y1="151.49" x2="285.52" y2="151.89" stroke="#3a2a00" stroke-width="2.34" stroke-linecap="round"/>
<line x1="285.52" y1="151.89" x2="284.83" y2="152.29" stroke="#3a2a00" stroke-width="2.29" stroke-linecap="round"/>
<line x1="284.83" y1="152.29" x2="284.19" y2="152.69" stroke="#3a2a00" stroke-width="2.23" stroke-linecap="round"/>
<line x1="284.19" y1="152.69" x2="283.58" y2="153.09" stroke="#3a2a00" stroke-width="2.17" stroke-linecap="round"/>
<line x1="283.58" y1="153.09" x2="283.02" y2="153.49" stroke="#3a2a00" stroke-width="2.10" stroke-linecap="round"/>
<line x1="283.02" y1="153.49" x2="282.51" y2="153.89" stroke="#3a2a00" stroke-width="2.02" stroke-linecap="round"/>
<line x1="282.51" y1="153.89" x2="282.05" y2="154.30" stroke="#3a2a00" stroke-width="1.94" stroke-linecap="round"/>
<line x1="282.05" y1="154.30" x2="281.65" y2="154.70" stroke="#3a2a00" stroke-width="1.86" stroke-linecap="round"/>
<line x1="281.65" y1="154.70" x2="281.30" y2="155.10" stroke="#3a2a00" stroke-width="1.77" stroke-linecap="round"/>
<line x1="281.30" y1="155.10" x2="281.02" y2="155.50" stroke="#3a2a00" stroke-width="1.68" stroke-linecap="round"/>
<line x1="281.02" y1="155.50" x2="280.79" y2="155.90" stroke="#3a2a00" stroke-width="1.59" stroke-linecap="round"/>
<line x1="280.79" y1="155.90" x2="280.63" y2="156.30" stroke="#3a2a00" stroke-width="1.49" stroke-linecap="round"/>
<line x1="280.63" y1="156.30" x2="280.53" y2="156.70" stroke="#3a2a00" stroke-width="1.40" stroke-linecap="round"/>
<line x1="300.49" y1="120.25" x2="300.50" y2="120.66" stroke="#3a2a00" stroke-width="1.34" stroke-linecap="round"/>
<line x1="300.50" y1="120.66" x2="300.44" y2="121.06" stroke="#3a2a00" stroke-width="1.43" stroke-linecap="round"/>
<line x1="300.44" y1="121.06" x2="300.31" y2="121.46" stroke="#3a2a00" stroke-width="1.53" stroke-linecap="round"/>
<line x1="300.31" y1="121.46" x2="300.13" y2="121.86" stroke="#3a2a00" stroke-width="1.62" stroke-linecap="round"/>
<line x1="300.13" y1="121.86" x2="299.88" y2="122.26" stroke="#3a2a00" stroke-width="1.72" stroke-linecap="round"/>
<line x1="299.88" y1="122.26" x2="299.57" y2="122.66" stroke="#3a2a00" stroke-width="1.81" stroke-linecap="round"/>
<line x1="299.57" y1="122.66" x2="299.20" y2="123.06" stroke="#3a2a00" stroke-width="1.89" stroke-linecap="round"/>
<line x1="299.20" y1="123.06" x2="298.77" y2="123.47" stroke="#3a2a00" stroke-width="1.97" stroke-linecap="round"/>
<line x1="298.77" y1="123.47" x2="298.29" y2="123.87" stroke="#3a2a00" stroke-width="2.05" stroke-linecap="round"/>
<line x1="298.29" y1="123.87" x2="297.76" y2="124.27" stroke="#3a2a00" stroke-width="2.13" stroke-linecap="round"/>
<line x1="297.76" y1="124.27" x2="297.18" y2="124.67" stroke="#3a2a00" stroke-width="2.19" stroke-linecap="round"/>
<line x1="297.18" y1="124.67" x2="296.55" y2="125.07" stroke="#3a2a00" stroke-width="2.26" stroke-linecap="round"/>
<line x1="296.55" y1="125.07" x2="295.89" y2="125.47" stroke="#3a2a00" stroke-width="2.31" stroke-linecap="round"/>
<line x1="295.89" y1="125.47" x2="295.19" y2="125.87" stroke="#3a2a00" stroke-width="2.36" stroke-linecap="round"/>
<line x1="295.19" y1="125.87" x2="294.46" y2="126.28" stroke="#3a2a00" stroke-width="2.40" stroke-linecap="round"/>
<line x1="294.46" y1="126.28" x2="293.71" y2="126.68" stroke="#3a2a00" stroke-width="2.44" stroke-linecap="round"/>
<line x1="293.71" y1="126.68" x2="292.94" y2="127.08" stroke="#3a2a00" stroke-width="2.46" stroke-linecap="round"/>
<line x1="292.94" y1="127.08" x2="292.14" y2="127.48" stroke="#3a2a00" stroke-width="2.48" stroke-linecap="round"/>
<line x1="292.14" y1="127.48" x2="291.34" y2="127.88" stroke="#3a2a00" stroke-width="2.50" stroke-linecap="round"/>
<line x1="291.34" y1="127.88" x2="290.53" y2="128.28" stroke="#3a2a00" stroke-width="2.50" stroke-linecap="round"/>
<line x1="290.53" y1="128.28" x2="289.73" y2="128.68" stroke="#3a2a00" stroke-width="2.50" stroke-linecap="round"/>
<line x1="289.73" y1="128.68" x2="288.92" y2="129.09" stroke="#3a2a00" stroke-width="2.49" stroke-linecap="round"/>
<line x1="288.92" y1="129.09" x2="288.13" y2="129.49" stroke="#3a2a00" stroke-width="2.47" stroke-linecap="round"/>
<line x1="288.13" y1="129.49" x2="287.36" y2="129.89" stroke="#3a2a00" stroke-width="2.44" stroke-linecap="round"/>
<line x1="287.36" y1="129.89" x2="286.60" y2="130.29" stroke="#3a2a00" stroke-width="2.40" stroke-linecap="round"/>
<line x1="286.60" y1="130.29" x2="285.87" y2="130.69" stroke="#3a2a00" stroke-width="2.36" stroke-linecap="round"/>
<line x1="285.87" y1="130.69" x2="285.17" y2="131.09" stroke="#3a2a00" stroke-width="2.32" stroke-linecap="round"/>
<line x1="285.17" y1="131.09" x2="284.50" y2="131.49" stroke="#3a2a00" stroke-width="2.26" stroke-linecap="round"/>
<line x1="284.50" y1="131.49" x2="283.88" y2="131.90" stroke="#3a2a00" stroke-width="2.20" stroke-linecap="round"/>
<line x1="283.88" y1="131.90" x2="283.29" y2="132.30" stroke="#3a2a00" stroke-width="2.13" stroke-linecap="round"/>
<line x1="283.29" y1="132.30" x2="282.76" y2="132.70" stroke="#3a2a00" stroke-width="2.06" stroke-linecap="round"/>
<line x1="282.76" y1="132.70" x2="282.27" y2="133.10" stroke="#3a2a00" stroke-width="1.98" stroke-linecap="round"/>
<line x1="282.27" y1="133.10" x2="281.84" y2="133.50" stroke="#3a2a00" stroke-width="1.90" stroke-linecap="round"/>
<line x1="281.84" y1="133.50" x2="281.46" y2="133.90" stroke="#3a2a00" stroke-width="1.81" stroke-linecap="round"/>
<line x1="281.46" y1="133.90" x2="281.15" y2="134.30" stroke="#3a2a00" stroke-width="1.72" stroke-linecap="round"/>
<line x1="281.15" y1="134.30" x2="280.89" y2="134.71" stroke="#3a2a00" stroke-width="1.63" stroke-linecap="round"/>
<line x1="280.89" y1="134.71" x2="280.70" y2="135.11" stroke="#3a2a00" stroke-width="1.54" stroke-linecap="round"/>
<line x1="280.70" y1="135.11" x2="280.57" y2="135.51" stroke="#3a2a00" stroke-width="1.44" stroke-linecap="round"/>
<line x1="280.57" y1="135.51" x2="280.51" y2="135.91" stroke="#3a2a00" stroke-width="1.35" stroke-linecap="round"/>
<line x1="300.50" y1="151.57" x2="300.49" y2="151.97" stroke="#3a2a00" stroke-width="1.36" stroke-linecap="round"/>
<line x1="300.49" y1="151.97" x2="300.41" y2="152.37" stroke="#3a2a00" stroke-width="1.46" stroke-linecap="round"/>
<line x1="300.41" y1="152.37" x2="300.27" y2="152.77" stroke="#3a2a00" stroke-width="1.56" stroke-linecap="round"/>
<line x1="300.27" y1="152.77" x2="300.06" y2="153.17" stroke="#3a2a00" stroke-width="1.65" stroke-linecap="round"/>
<line x1="300.06" y1="153.17" x2="299.80" y2="153.57" stroke="#3a2a00" stroke-width="1.74" stroke-linecap="round"/>
<line x1="299.80" y1="153.57" x2="299.47" y2="153.97" stroke="#3a2a00" stroke-width="1.83" stroke-linecap="round"/>
<line x1="299.47" y1="153.97" x2="299.08" y2="154.38" stroke="#3a2a00" stroke-width="1.92" stroke-linecap="round"/>
<line x1="299.08" y1="154.38" x2="298.64" y2="154.78" stroke="#3a2a00" stroke-width="2.00" stroke-linecap="round"/>
<line x1="298.64" y1="154.78" x2="298.15" y2="155.18" stroke="#3a2a00" stroke-width="2.07" stroke-linecap="round"/>
<line x1="298.15" y1="155.18" x2="297.60" y2="155.58" stroke="#3a2a00" stroke-width="2.15" stroke-linecap="round"/>
<line x1="297.60" y1="155.58" x2="297.01" y2="155.98" stroke="#3a2a00" stroke-width="2.21" stroke-linecap="round"/>
<line x1="297.01" y1="155.98" x2="296.37" y2="156.38" stroke="#3a2a00" stroke-width="2.27" stroke-linecap="round"/>
<line x1="296.37" y1="156.38" x2="295.70" y2="156.78" stroke="#3a2a00" stroke-width="2.32" stroke-linecap="round"/>
<line x1="295.70" y1="156.78" x2="294.99" y2="157.19" stroke="#3a2a00" stroke-width="2.37" stroke-linecap="round"/>
<line x1="294.99" y1="157.19" x2="294.26" y2="157.59" stroke="#3a2a00" stroke-width="2.41" stroke-linecap="round"/>
<line x1="294.26" y1="157.59" x2="293.50" y2="157.99" stroke="#3a2a00" stroke-width="2.44" stroke-linecap="round"/>
<line x1="293.50" y1="157.99" x2="292.72" y2="158.39" stroke="#3a2a00" stroke-width="2.47" stroke-linecap="round"/>
<line x1="292.72" y1="158.39" x2="291.92" y2="158.79" stroke="#3a2a00" stroke-width="2.49" stroke-linecap="round"/>
<line x1="291.92" y1="158.79" x2="291.12" y2="159.19" stroke="#3a2a00" stroke-width="2.50" stroke-linecap="round"/>
<line x1="291.12" y1="159.19" x2="290.31" y2="159.59" stroke="#3a2a00" stroke-width="2.50" stroke-linecap="round"/>
<line x1="290.31" y1="159.59" x2="289.50" y2="160.00" stroke="#3a2a00" stroke-width="2.49" stroke-linecap="round"/>
<line x1="289.50" y1="160.00" x2="288.70" y2="160.40" stroke="#3a2a00" stroke-width="2.48" stroke-linecap="round"/>
<line x1="288.70" y1="160.40" x2="287.91" y2="160.80" stroke="#3a2a00" stroke-width="2.46" stroke-linecap="round"/>
<line x1="287.91" y1="160.80" x2="287.14" y2="161.20" stroke="#3a2a00" stroke-width="2.43" stroke-linecap="round"/>
<line x1="300.50" y1="110.22" x2="300.48" y2="110.62" stroke="#f2b600" stroke-width="0.68" stroke-linecap="round"/>
<line x1="300.48" y1="110.62" x2="300.40" y2="111.02" stroke="#f2b600" stroke-width="0.77" stroke-linecap="round"/>
<line x1="300.40" y1="111.02" x2="300.25" y2="111.42" stroke="#f2b600" stroke-width="0.87" stroke-linecap="round"/>
<line x1="300.25" y1="111.42" x2="300.04" y2="111.82" stroke="#f2b600" stroke-width="0.96" stroke-linecap="round"/>
<line x1="300.04" y1="111.82" x2="299.76" y2="112.22" stroke="#f2b600" stroke-width="1.05" stroke-linecap="round"/>
<line x1="299.76" y1="112.22" x2="299.43" y2="112.62" stroke="#f2b600" stroke-width="1.14" stroke-linecap="round"/>
<line x1="299.43" y1="112.62" x2="299.04" y2="113.02" stroke="#f2b600" stroke-width="1.23" stroke-linecap="round"/>
<line x1="299.04" y1="113.02" x2="298.59" y2="113.42" stroke="#f2b600" stroke-width="1.31" stroke-linecap="round"/>
<line x1="298.59" y1="113.42" x2="298.09" y2="113.82" stroke="#f2b600" stroke-width="1.38" stroke-linecap="round"/>
<line x1="298.09" y1="113.82" x2="297.54" y2="114.22" stroke="#f2b600" stroke-width="1.45" stroke-linecap="round"/>
<line x1="297.54" y1="114.22" x2="296.94" y2="114.62" stroke="#f2b600" stroke-width="1.52" stroke-linecap="round"/>
<line x1="296.94" y1="114.62" x2="296.30" y2="115.03" stroke="#f2b600" stroke-width="1.58" stroke-linecap="round"/>
<line x1="296.30" y1="115.03" x2="295.63" y2="115.43" stroke="#f2b600" stroke-width="1.63" stroke-linecap="round"/>
<line x1="295.63" y1="115.43" x2="294.92" y2="115.83" stroke="#f2b600" stroke-width="1.68" stroke-linecap="round"/>
<line x1="294.92" y1="115.83" x2="294.18" y2="116.23" stroke="#f2b600" stroke-width="1.72" stroke-linecap="round"/>
<line x1="294.18" y1="116.23" x2="293.42" y2="116.63" stroke="#f2b600" stroke-width="1.75" stroke-linecap="round"/>
<line x1="293.42" y1="116.63" x2="292.64" y2="117.03" stroke="#f2b600" stroke-width="1.77" stroke-linecap="round"/>
<line x1="292.64" y1="117.03" x2="291.85" y2="117.43" stroke="#f2b600" stroke-width="1.79" stroke-linecap="round"/>
<line x1="291.85" y1="117.43" x2="291.04" y2="117.83" stroke="#f2b600" stroke-width="1.80" stroke-linecap="round"/>
<line x1="291.04" y1="117.83" x2="290.24" y2="118.23" stroke="#f2b600" stroke-width="1.80" stroke-linecap="round"/>
<line x1="290.24" y1="118.23" x2="289.43" y2="118.63" stroke="#f2b600" stroke-width="1.79" stroke-linecap="round"/>
<line x1="289.43" y1="118.63" x2="288.63" y2="119.03" stroke="#f2b600" stroke-width="1.78" stroke-linecap="round"/>
<line x1="288.63" y1="119.03" x2="287.85" y2="119.43" stroke="#f2b600" stroke-width="1.76" stroke-linecap="round"/>
<line x1="287.85" y1="119.43" x2="287.08" y2="119.83" stroke="#f2b600" stroke-width="1.73" stroke-linecap="round"/>
<line x1="287.08" y1="119.83" x2="286.33" y2="120.23" stroke="#f2b600" stroke-width="1.69" stroke-linecap="round"/>
<line x1="286.33" y1="120.23" x2="285.61" y2="120.64" stroke="#f2b600" stroke-width="1.65" stroke-linecap="round"/>
<line x1="285.61" y1="120.64" x2="284.93" y2="121.04" stroke="#f2b600" stroke-width="1.60" stroke-linecap="round"/>
<line x1="284.93" y1="121.04" x2="284.27" y2="121.44" stroke="#f2b600" stroke-width="1.54" stroke-linecap="round"/>
<line x1="284.27" y1="121.44" x2="283.66" y2="121.84" stroke="#f2b600" stroke-width="1.48" stroke-linecap="round"/>
<line x1="283.66" y1="121.84" x2="283.10" y2="122.24" stroke="#f2b600" stroke-width="1.41" stroke-linecap="round"/>
<line x1="283.10" y1="122.24" x2="282.58" y2="122.64" stroke="#f2b600" stroke-width="1.33" stroke-linecap="round"/>
<line x1="282.58" y1="122.64" x2="282.11" y2="123.04" stroke="#f2b600" stroke-width="1.25" stroke-linecap="round"/>
<line x1="282.11" y1="123.04" x2="281.70" y2="123.44" stroke="#f2b600" stroke-width="1.17" stroke-linecap="round"/>
<line x1="281.70" y1="123.44" x2="281.35" y2="123.84" stroke="#f2b600" stroke-width="1.08" stroke-linecap="round"/>
<line x1="281.35" y1="123.84" x2="281.05" y2="124.24" stroke="#f2b600" stroke-width="0.99" stroke-linecap="round"/>
<line x1="281.05" y1="124.24" x2="280.82" y2="124.64" stroke="#f2b600" stroke-width="0.90" stroke-linecap="round"/>
<line x1="280.82" y1="124.64" x2="280.65" y2="125.04" stroke="#f2b600" stroke-width="0.81" stroke-linecap="round"/>
<line x1="280.65" y1="125.04" x2="280.54" y2="125.44" stroke="#f2b600" stroke-width="0.71" stroke-linecap="round"/>
<line x1="280.54" y1="125.44" x2="280.50" y2="125.84" stroke="#f2b600" stroke-width="0.61" stroke-linecap="round"/>
<line x1="300.50" y1="141.47" x2="300.47" y2="141.87" stroke="#f2b600" stroke-width="0.69" stroke-linecap="round"/>
<line x1="300.47" y1="141.87" x2="300.38" y2="142.27" stroke="#f2b600" stroke-width="0.79" stroke-linecap="round"/>
<line x1="300.38" y1="142.27" x2="300.22" y2="142.67" stroke="#f2b600" stroke-width="0.88" stroke-linecap="round"/>
<line x1="300.22" y1="142.67" x2="300.00" y2="143.08" stroke="#f2b600" stroke-width="0.97" stroke-linecap="round"/>
<line x1="300.00" y1="143.08" x2="299.72" y2="143.48" stroke="#f2b600" stroke-width="1.07" stroke-linecap="round"/>
<line x1="299.72" y1="143.48" x2="299.38" y2="143.88" stroke="#f2b600" stroke-width="1.15" stroke-linecap="round"/>
<line x1="299.38" y1="143.88" x2="298.98" y2="144.28" stroke="#f2b600" stroke-width="1.24" stroke-linecap="round"/>
<line x1="298.98" y1="144.28" x2="298.52" y2="144.68" stroke="#f2b600" stroke-width="1.32" stroke-linecap="round"/>
<line x1="298.52" y1="144.68" x2="298.01" y2="145.08" stroke="#f2b600" stroke-width="1.39" stroke-linecap="round"/>
<line x1="298.01" y1="145.08" x2="297.46" y2="145.48" stroke="#f2b600" stroke-width="1.46" stroke-linecap="round"/>
<line x1="297.46" y1="145.48" x2="296.85" y2="145.88" stroke="#f2b600" stroke-width="1.53" stroke-linecap="round"/>
<line x1="296.85" y1="145.88" x2="296.21" y2="146.28" stroke="#f2b600" stroke-width="1.59" stroke-linecap="round"/>
<line x1="296.21" y1="146.28" x2="295.53" y2="146.68" stroke="#f2b600" stroke-width="1.64" stroke-linecap="round"/>
<line x1="295.53" y1="146.68" x2="294.82" y2="147.08" stroke="#f2b600" stroke-width="1.68" stroke-linecap="round"/>
<line x1="294.82" y1="147.08" x2="294.08" y2="147.48" stroke="#f2b600" stroke-width="1.72" stroke-linecap="round"/>
<line x1="294.08" y1="147.48" x2="293.31" y2="147.88" stroke="#f2b600" stroke-width="1.75" stroke-linecap="round"/>
<line x1="293.31" y1="147.88" x2="292.53" y2="148.28" stroke="#f2b600" stroke-width="1.78" stroke-linecap="round"/>
<line x1="292.53" y1="148.28" x2="291.73" y2="148.69" stroke="#f2b600" stroke-width="1.79" stroke-linecap="round"/>
<line x1="291.73" y1="148.69" x2="290.93" y2="149.09" stroke="#f2b600" stroke-width="1.80" stroke-linecap="round"/>
<line x1="290.93" y1="149.09" x2="290.12" y2="149.49" stroke="#f2b600" stroke-width="1.80" stroke-linecap="round"/>
<line x1="290.12" y1="149.49" x2="289.32" y2="149.89" stroke="#f2b600" stroke-width="1.79" stroke-linecap="round"/>
<line x1="289.32" y1="149.89" x2="288.52" y2="150.29" stroke="#f2b600" stroke-width="1.78" stroke-linecap="round"/>
<line x1="288.52" y1="150.29" x2="287.74" y2="150.69" stroke="#f2b600" stroke-width="1.75" stroke-linecap="round"/>
<line x1="287.74" y1="150.69" x2="286.97" y2="151.09" stroke="#f2b600" stroke-width="1.72" stroke-linecap="round"/>
<line x1="286.97" y1="151.09" x2="286.23" y2="151.49" stroke="#f2b600" stroke-width="1.69" stroke-linecap="round"/>
<line x1="286.23" y1="151.49" x2="285.52" y2="151.89" stroke="#f2b600" stroke-width="1.64" stroke-linecap="round"/>
<line x1="285.52" y1="151.89" x2="284.83" y2="152.29" stroke="#f2b600" stroke-width="1.59" stroke-linecap="round"/>
<line x1="284.83" y1="152.29" x2="284.19" y2="152.69" stroke="#f2b600" stroke-width="1.53" stroke-linecap="round"/>
<line x1="284.19" y1="152.69" x2="283.58" y2="153.09" stroke="#f2b600" stroke-width="1.47" stroke-linecap="round"/>
<line x1="283.58" y1="153.09" x2="283.02" y2="153.49" stroke="#f2b600" stroke-width="1.40" stroke-linecap="round"/>
<line x1="283.02" y1="153.49" x2="282.51" y2="153.89" stroke="#f2b600" stroke-width="1.32" stroke-linecap="round"/>
<line x1="282.51" y1="153.89" x2="282.05" y2="154.30" stroke="#f2b600" stroke-width="1.24" stroke-linecap="round"/>
<line x1="282.05" y1="154.30" x2="281.65" y2="154.70" stroke="#f2b600" stroke-width="1.16" stroke-linecap="round"/>
<line x1="281.65" y1="154.70" x2="281.30" y2="155.10" stroke="#f2b600" stroke-width="1.07" stroke-linecap="round"/>
<line x1="281.30" y1="155.10" x2="281.02" y2="155.50" stroke="#f2b600" stroke-width="0.98" stroke-linecap="round"/>
<line x1="281.02" y1="155.50" x2="280.79" y2="155.90" stroke="#f2b600" stroke-width="0.89" stroke-linecap="round"/>
<line x1="280.79" y1="155.90" x2="280.63" y2="156.30" stroke="#f2b600" stroke-width="0.79" stroke-linecap="round"/>
<line x1="280.63" y1="156.30" x2="280.53" y2="156.70" stroke="#f2b600" stroke-width="0.70" stroke-linecap="round"/>
<line x1="300.49" y1="120.25" x2="300.50" y2="120.66" stroke="#f2b600" stroke-width="0.64" stroke-linecap="round"/>
<line x1="300.50" y1="120.66" x2="300.44" y2="121.06" stroke="#f2b600" stroke-width="0.73" stroke-linecap="round"/>
<line x1="300.44" y1="121.06" x2="300.31" y2="121.46" stroke="#f2b600" stroke-width="0.83" stroke-linecap="round"/>
<line x1="300.31" y1="121.46" x2="300.13" y2="121.86" stroke="#f2b600" stroke-width="0.92" stroke-linecap="round"/>
<line x1="300.13" y1="121.86" x2="299.88" y2="122.26" stroke="#f2b600" stroke-width="1.02" stroke-linecap="round"/>
<line x1="299.88" y1="122.26" x2="299.57" y2="122.66" stroke="#f2b600" stroke-width="1.11" stroke-linecap="round"/>
<line x1="299.57" y1="122.66" x2="299.20" y2="123.06" stroke="#f2b600" stroke-width="1.19" stroke-linecap="round"/>
<line x1="299.20" y1="123.06" x2="298.77" y2="123.47" stroke="#f2b600" stroke-width="1.27" stroke-linecap="round"/>
<line x1="298.77" y1="123.47" x2="298.29" y2="123.87" stroke="#f2b600" stroke-width="1.35" stroke-linecap="round"/>
<line x1="298.29" y1="123.87" x2="297.76" y2="124.27" stroke="#f2b600" stroke-width="1.43" stroke-linecap="round"/>
<line x1="297.76" y1="124.27" x2="297.18" y2="124.67" stroke="#f2b600" stroke-width="1.49" stroke-linecap="round"/>
<line x1="297.18" y1="124.67" x2="296.55" y2="125.07" stroke="#f2b600" stroke-width="1.56" stroke-linecap="round"/>
<line x1="296.55" y1="125.07" x2="295.89" y2="125.47" stroke="#f2b600" stroke-width="1.61" stroke-linecap="round"/>
<line x1="295.89" y1="125.47" x2="295.19" y2="125.87" stroke="#f2b600" stroke-width="1.66" stroke-linecap="round"/>
<line x1="295.19" y1="125.87" x2="294.46" y2="126.28" stroke="#f2b600" stroke-width="1.70" stroke-linecap="round"/>
<line x1="294.46" y1="126.28" x2="293.71" y2="126.68" stroke="#f2b600" stroke-width="1.74" stroke-linecap="round"/>
<line x1="293.71" y1="126.68" x2="292.94" y2="127.08" stroke="#f2b600" stroke-width="1.76" stroke-linecap="round"/>
<line x1="292.94" y1="127.08" x2="292.14" y2="127.48" stroke="#f2b600" stroke-width="1.78" stroke-linecap="round"/>
<line x1="292.14" y1="127.48" x2="291.34" y2="127.88" stroke="#f2b600" stroke-width="1.80" stroke-linecap="round"/>
<line x1="291.34" y1="127.88" x2="290.53" y2="128.28" stroke="#f2b600" stroke-width="1.80" stroke-linecap="round"/>
<line x1="290.53" y1="128.28" x2="289.73" y2="128.68" stroke="#f2b600" stroke-width="1.80" stroke-linecap="round"/>
<line x1="289.73" y1="128.68" x2="288.92" y2="129.09" stroke="#f2b600" stroke-width="1.79" stroke-linecap="round"/>
<line x1="288.92" y1="129.09" x2="288.13" y2="129.49" stroke="#f2b600" stroke-width="1.77" stroke-linecap="round"/>
<line x1="288.13" y1="129.49" x2="287.36" y2="129.89" stroke="#f2b600" stroke-width="1.74" stroke-linecap="round"/>
<line x1="287.36" y1="129.89" x2="286.60" y2="130.29" stroke="#f2b600" stroke-width="1.70" stroke-linecap="round"/>
<line x1="286.60" y1="130.29" x2="285.87" y2="130.69" stroke="#f2b600" stroke-width="1.66" stroke-linecap="round"/>
<line x1="285.87" y1="130.69" x2="285.17" y2="131.09" stroke="#f2b600" stroke-width="1.62" stroke-linecap="round"/>
<line x1="285.17" y1="131.09" x2="284.50" y2="131.49" stroke="#f2b600" stroke-width="1.56" stroke-linecap="round"/>
<line x1="284.50" y1="131.49" x2="283.88" y2="131.90" stroke="#f2b600" stroke-width="1.50" stroke-linecap="round"/>
<line x1="283.88" y1="131.90" x2="283.29" y2="132.30" stroke="#f2b600" stroke-width="1.43" stroke-linecap="round"/>
<line x1="283.29" y1="132.30" x2="282.76" y2="132.70" stroke="#f2b600" stroke-width="1.36" stroke-linecap="round"/>
<line x1="282.76" y1="132.70" x2="282.27" y2="133.10" stroke="#f2b600" stroke-width="1.28" stroke-linecap="round"/>
<line x1="282.27" y1="133.10" x2="281.84" y2="133.50" stroke="#f2b600" stroke-width="1.20" stroke-linecap="round"/>
<line x1="281.84" y1="133.50" x2="281.46" y2="133.90" stroke="#f2b600" stroke-width="1.11" stroke-linecap="round"/>
<line x1="281.46" y1="133.90" x2="281.15" y2="134.30" stroke="#f2b600" stroke-width="1.02" stroke-linecap="round"/>
<line x1="281.15" y1="134.30" x2="280.89" y2="134.71" stroke="#f2b600" stroke-width="0.93" stroke-linecap="round"/>
<line x1="280.89" y1="134.71" x2="280.70" y2="135.11" stroke="#f2b600" stroke-width="0.84" stroke-linecap="round"/>
<line x1="280.70" y1="135.11" x2="280.57" y2="135.51" stroke="#f2b600" stroke-width="0.74" stroke-linecap="round"/>
<line x1="280.57" y1="135.51" x2="280.51" y2="135.91" stroke="#f2b600" stroke-width="0.65" stroke-linecap="round"/>
<line x1="300.50" y1="151.57" x2="300.49" y2="151.97" stroke="#f2b600" stroke-width="0.66" stroke-linecap="round"/>
<line x1="300.49" y1="151.97" x2="300.41" y2="152.37" stroke="#f2b600" stroke-width="0.76" stroke-linecap="round"/>
<line x1="300.41" y1="152.37" x2="300.27" y2="152.77" stroke="#f2b600" stroke-width="0.86" stroke-linecap="round"/>
<line x1="300.27" y1="152.77" x2="300.06" y2="153.17" stroke="#f2b600" stroke-width="0.95" stroke-linecap="round"/>
<line x1="300.06" y1="153.17" x2="299.80" y2="153.57" stroke="#f2b600" stroke-width="1.04" stroke-linecap="round"/>
<line x1="299.80" y1="153.57" x2="299.47" y2="153.97" stroke="#f2b600" stroke-width="1.13" stroke-linecap="round"/>
<line x1="299.47" y1="153.97" x2="299.08" y2="154.38" stroke="#f2b600" stroke-width="1.22" stroke-linecap="round"/>
<line x1="299.08" y1="154.38" x2="298.64" y2="154.78" stroke="#f2b600" stroke-width="1.30" stroke-linecap="round"/>
<line x1="298.64" y1="154.78" x2="298.15" y2="155.18" stroke="#f2b600" stroke-width="1.37" stroke-linecap="round"/>
<line x1="298.15" y1="155.18" x2="297.60" y2="155.58" stroke="#f2b600" stroke-width="1.45" stroke-linecap="round"/>
<line x1="297.60" y1="155.58" x2="297.01" y2="155.98" stroke="#f2b600" stroke-width="1.51" stroke-linecap="round"/>
<line x1="297.01" y1="155.98" x2="296.37" y2="156.38" stroke="#f2b600" stroke-width="1.57" stroke-linecap="round"/>
<line x1="296.37" y1="156.38" x2="295.70" y2="156.78" stroke="#f2b600" stroke-width="1.62" stroke-linecap="round"/>
<line x1="295.70" y1="156.78" x2="294.99" y2="157.19" stroke="#f2b600" stroke-width="1.67" stroke-linecap="round"/>
<line x1="294.99" y1="157.19" x2="294.26" y2="157.59" stroke="#f2b600" stroke-width="1.71" stroke-linecap="round"/>
<line x1="294.26" y1="157.59" x2="293.50" y2="157.99" stroke="#f2b600" stroke-width="1.74" stroke-linecap="round"/>
<line x1="293.50" y1="157.99" x2="292.72" y2="158.39" stroke="#f2b600" stroke-width="1.77" stroke-linecap="round"/>
<line x1="292.72" y1="158.39" x2="291.92" y2="158.79" stroke="#f2b600" stroke-width="1.79" stroke-linecap="round"/>
<line x1="291.92" y1="158.79" x2="291.12" y2="159.19" stroke="#f2b600" stroke-width="1.80" stroke-linecap="round"/>
<line x1="291.12" y1="159.19" x2="290.31" y2="159.59" stroke="#f2b600" stroke-width="1.80" stroke-linecap="round"/>
<line x1="290.31" y1="159.59" x2="289.50" y2="160.00" stroke="#f2b600" stroke-width="1.79" stroke-linecap="round"/>
<line x1="289.50" y1="160.00" x2="288.70" y2="160.40" stroke="#f2b600" stroke-width="1.78" stroke-linecap="round"/>
<line x1="288.70" y1="160.40" x2="287.91" y2="160.80" stroke="#f2b600" stroke-width="1.76" stroke-linecap="round"/>
<line x1="287.91" y1="160.80" x2="287.14" y2="161.20" stroke="#f2b600" stroke-width="1.73" stroke-linecap="round"/>
<line x1="288.2" y1="160.7" x2="294.5" y2="177.0" stroke="#000" stroke-width="1.3"/>
<line x1="459.81" y1="150.00" x2="460.58" y2="150.40" stroke="#000" stroke-width="1.90" stroke-linecap="round"/>
<line x1="460.58" y1="150.40" x2="461.35" y2="150.80" stroke="#000" stroke-width="1.90" stroke-linecap="round"/>
<line x1="461.35" y1="150.80" x2="462.12" y2="151.20" stroke="#000" stroke-width="1.90" stroke-linecap="round"/>
<line x1="462.12" y1="151.20" x2="462.89" y2="151.60" stroke="#000" stroke-width="1.88" stroke-linecap="round"/>
<line x1="462.89" y1="151.60" x2="463.65" y2="152.00" stroke="#000" stroke-width="1.86" stroke-linecap="round"/>
<line x1="463.65" y1="152.00" x2="464.39" y2="152.40" stroke="#000" stroke-width="1.84" stroke-linecap="round"/>
<line x1="464.39" y1="152.40" x2="465.12" y2="152.80" stroke="#000" stroke-width="1.80" stroke-linecap="round"/>
<line x1="465.12" y1="152.80" x2="465.82" y2="153.20" stroke="#000" stroke-width="1.76" stroke-linecap="round"/>
<line x1="465.82" y1="153.20" x2="466.49" y2="153.60" stroke="#000" stroke-width="1.71" stroke-linecap="round"/>
<line x1="466.49" y1="153.60" x2="467.14" y2="154.00" stroke="#000" stroke-width="1.66" stroke-linecap="round"/>
<line x1="467.14" y1="154.00" x2="467.75" y2="154.40" stroke="#000" stroke-width="1.59" stroke-linecap="round"/>
<line x1="467.75" y1="154.40" x2="468.32" y2="154.80" stroke="#000" stroke-width="1.53" stroke-linecap="round"/>
<line x1="468.32" y1="154.80" x2="468.85" y2="155.20" stroke="#000" stroke-width="1.45" stroke-linecap="round"/>
<line x1="468.85" y1="155.20" x2="469.33" y2="155.60" stroke="#000" stroke-width="1.37" stroke-linecap="round"/>
<line x1="469.33" y1="155.60" x2="469.77" y2="156.00" stroke="#000" stroke-width="1.29" stroke-linecap="round"/>
<line x1="469.77" y1="156.00" x2="470.15" y2="156.40" stroke="#000" stroke-width="1.20" stroke-linecap="round"/>
<line x1="470.15" y1="156.40" x2="470.49" y2="156.80" stroke="#000" stroke-width="1.11" stroke-linecap="round"/>
<line x1="470.49" y1="156.80" x2="470.76" y2="157.20" stroke="#000" stroke-width="1.02" stroke-linecap="round"/>
<line x1="470.76" y1="157.20" x2="470.99" y2="157.60" stroke="#000" stroke-width="0.92" stroke-linecap="round"/>
<line x1="470.99" y1="157.60" x2="471.15" y2="158.00" stroke="#000" stroke-width="0.83" stroke-linecap="round"/>
<line x1="471.15" y1="158.00" x2="471.25" y2="158.40" stroke="#000" stroke-width="0.73" stroke-linecap="round"/>
<line x1="471.25" y1="158.40" x2="471.30" y2="158.80" stroke="#000" stroke-width="0.63" stroke-linecap="round"/>
<line x1="451.32" y1="174.80" x2="451.30" y2="175.20" stroke="#000" stroke-width="0.61" stroke-linecap="round"/>
<line x1="451.30" y1="175.20" x2="451.34" y2="175.60" stroke="#000" stroke-width="0.71" stroke-linecap="round"/>
<line x1="451.34" y1="175.60" x2="451.43" y2="176.00" stroke="#000" stroke-width="0.81" stroke-linecap="round"/>
<line x1="451.43" y1="176.00" x2="451.59" y2="176.40" stroke="#000" stroke-width="0.91" stroke-linecap="round"/>
<line x1="451.59" y1="176.40" x2="451.80" y2="176.80" stroke="#000" stroke-width="1.01" stroke-linecap="round"/>
<line x1="451.80" y1="176.80" x2="452.08" y2="177.20" stroke="#000" stroke-width="1.10" stroke-linecap="round"/>
<line x1="452.08" y1="177.20" x2="452.40" y2="177.60" stroke="#000" stroke-width="1.19" stroke-linecap="round"/>
<line x1="452.40" y1="177.60" x2="452.78" y2="178.00" stroke="#000" stroke-width="1.28" stroke-linecap="round"/>
<line x1="452.78" y1="178.00" x2="453.21" y2="178.40" stroke="#000" stroke-width="1.36" stroke-linecap="round"/>
<line x1="453.21" y1="178.40" x2="453.69" y2="178.80" stroke="#000" stroke-width="1.44" stroke-linecap="round"/>
<line x1="453.69" y1="178.80" x2="454.21" y2="179.20" stroke="#000" stroke-width="1.52" stroke-linecap="round"/>
<line x1="454.21" y1="179.20" x2="454.78" y2="179.60" stroke="#000" stroke-width="1.59" stroke-linecap="round"/>
<line x1="454.78" y1="179.60" x2="455.38" y2="180.00" stroke="#000" stroke-width="1.65" stroke-linecap="round"/>
<line x1="455.38" y1="180.00" x2="456.02" y2="180.40" stroke="#000" stroke-width="1.70" stroke-linecap="round"/>
<line x1="456.02" y1="180.40" x2="456.70" y2="180.80" stroke="#000" stroke-width="1.75" stroke-linecap="round"/>
<line x1="456.70" y1="180.80" x2="457.40" y2="181.20" stroke="#000" stroke-width="1.80" stroke-linecap="round"/>
<line x1="457.40" y1="181.20" x2="458.12" y2="181.60" stroke="#000" stroke-width="1.83" stroke-linecap="round"/>
<line x1="458.12" y1="181.60" x2="458.86" y2="182.00" stroke="#000" stroke-width="1.86" stroke-linecap="round"/>
<line x1="458.86" y1="182.00" x2="459.62" y2="182.40" stroke="#000" stroke-width="1.88" stroke-linecap="round"/>
<line x1="459.62" y1="182.40" x2="460.38" y2="182.80" stroke="#000" stroke-width="1.89" stroke-linecap="round"/>
<line x1="460.38" y1="182.80" x2="461.16" y2="183.20" stroke="#000" stroke-width="1.90" stroke-linecap="round"/>
<line x1="461.16" y1="183.20" x2="461.93" y2="183.60" stroke="#000" stroke-width="1.90" stroke-linecap="round"/>
<line x1="461.93" y1="183.60" x2="462.70" y2="184.00" stroke="#000" stroke-width="1.89" stroke-linecap="round"/>
<line x1="462.70" y1="184.00" x2="463.46" y2="184.40" stroke="#000" stroke-width="1.87" stroke-linecap="round"/>
<line x1="463.46" y1="184.40" x2="464.21" y2="184.80" stroke="#000" stroke-width="1.84" stroke-linecap="round"/>
<line x1="464.21" y1="184.80" x2="464.94" y2="185.20" stroke="#000" stroke-width="1.81" stroke-linecap="round"/>
<line x1="464.94" y1="185.20" x2="465.65" y2="185.60" stroke="#000" stroke-width="1.77" stroke-linecap="round"/>
<line x1="465.65" y1="185.60" x2="466.33" y2="186.00" stroke="#000" stroke-width="1.72" stroke-linecap="round"/>
<line x1="466.33" y1="186.00" x2="466.98" y2="186.40" stroke="#000" stroke-width="1.67" stroke-linecap="round"/>
<line x1="466.98" y1="186.40" x2="467.60" y2="186.80" stroke="#000" stroke-width="1.61" stroke-linecap="round"/>
<line x1="467.60" y1="186.80" x2="468.18" y2="187.20" stroke="#000" stroke-width="1.54" stroke-linecap="round"/>
<line x1="468.18" y1="187.20" x2="468.72" y2="187.60" stroke="#000" stroke-width="1.47" stroke-linecap="round"/>
<line x1="468.72" y1="187.60" x2="469.22" y2="188.00" stroke="#000" stroke-width="1.39" stroke-linecap="round"/>
<line x1="469.22" y1="188.00" x2="469.66" y2="188.40" stroke="#000" stroke-width="1.31" stroke-linecap="round"/>
<line x1="469.66" y1="188.40" x2="470.06" y2="188.80" stroke="#000" stroke-width="1.23" stroke-linecap="round"/>
<line x1="470.06" y1="188.80" x2="470.41" y2="189.20" stroke="#000" stroke-width="1.14" stroke-linecap="round"/>
<line x1="470.41" y1="189.20" x2="470.70" y2="189.60" stroke="#000" stroke-width="1.04" stroke-linecap="round"/>
<line x1="470.70" y1="189.60" x2="470.94" y2="190.00" stroke="#000" stroke-width="0.95" stroke-linecap="round"/>
<line x1="470.94" y1="190.00" x2="471.11" y2="190.40" stroke="#000" stroke-width="0.85" stroke-linecap="round"/>
<line x1="471.11" y1="190.40" x2="471.23" y2="190.80" stroke="#000" stroke-width="0.75" stroke-linecap="round"/>
<line x1="471.23" y1="190.80" x2="471.29" y2="191.20" stroke="#000" stroke-width="0.65" stroke-linecap="round"/>
<line x1="451.55" y1="154.00" x2="451.75" y2="154.40" stroke="#000" stroke-width="0.98" stroke-linecap="round"/>
<line x1="451.75" y1="154.40" x2="452.00" y2="154.80" stroke="#000" stroke-width="1.08" stroke-linecap="round"/>
<line x1="452.00" y1="154.80" x2="452.32" y2="155.20" stroke="#000" stroke-width="1.17" stroke-linecap="round"/>
<line x1="452.32" y1="155.20" x2="452.68" y2="155.60" stroke="#000" stroke-width="1.26" stroke-linecap="round"/>
<line x1="452.68" y1="155.60" x2="453.10" y2="156.00" stroke="#000" stroke-width="1.34" stroke-linecap="round"/>
<line x1="453.10" y1="156.00" x2="453.57" y2="156.40" stroke="#000" stroke-width="1.42" stroke-linecap="round"/>
<line x1="453.57" y1="156.40" x2="454.08" y2="156.80" stroke="#000" stroke-width="1.50" stroke-linecap="round"/>
<line x1="454.08" y1="156.80" x2="454.64" y2="157.21" stroke="#000" stroke-width="1.57" stroke-linecap="round"/>
<line x1="454.64" y1="157.21" x2="455.24" y2="157.61" stroke="#000" stroke-width="1.63" stroke-linecap="round"/>
<line x1="455.24" y1="157.61" x2="455.87" y2="158.01" stroke="#000" stroke-width="1.69" stroke-linecap="round"/>
<line x1="455.87" y1="158.01" x2="456.54" y2="158.41" stroke="#000" stroke-width="1.74" stroke-linecap="round"/>
<line x1="456.54" y1="158.41" x2="457.23" y2="158.81" stroke="#000" stroke-width="1.79" stroke-linecap="round"/>
<line x1="457.23" y1="158.81" x2="457.95" y2="159.21" stroke="#000" stroke-width="1.82" stroke-linecap="round"/>
<line x1="457.95" y1="159.21" x2="458.69" y2="159.61" stroke="#000" stroke-width="1.85" stroke-linecap="round"/>
<line x1="458.69" y1="159.61" x2="459.45" y2="160.01" stroke="#000" stroke-width="1.88" stroke-linecap="round"/>
<line x1="459.45" y1="160.01" x2="460.21" y2="160.41" stroke="#000" stroke-width="1.89" stroke-linecap="round"/>
<line x1="460.21" y1="160.41" x2="460.98" y2="160.81" stroke="#000" stroke-width="1.90" stroke-linecap="round"/>
<line x1="460.98" y1="160.81" x2="461.76" y2="161.21" stroke="#000" stroke-width="1.90" stroke-linecap="round"/>
<line x1="461.76" y1="161.21" x2="462.53" y2="161.61" stroke="#000" stroke-width="1.89" stroke-linecap="round"/>
<line x1="462.53" y1="161.61" x2="463.30" y2="162.01" stroke="#000" stroke-width="1.87" stroke-linecap="round"/>
<line x1="463.30" y1="162.01" x2="464.05" y2="162.41" stroke="#000" stroke-width="1.85" stroke-linecap="round"/>
<line x1="464.05" y1="162.41" x2="464.78" y2="162.82" stroke="#000" stroke-width="1.82" stroke-linecap="round"/>
<line x1="464.78" y1="162.82" x2="465.50" y2="163.22" stroke="#000" stroke-width="1.78" stroke-linecap="round"/>
<line x1="465.50" y1="163.22" x2="466.19" y2="163.62" stroke="#000" stroke-width="1.73" stroke-linecap="round"/>
<line x1="466.19" y1="163.62" x2="466.85" y2="164.02" stroke="#000" stroke-width="1.68" stroke-linecap="round"/>
<line x1="466.85" y1="164.02" x2="467.48" y2="164.42" stroke="#000" stroke-width="1.62" stroke-linecap="round"/>
<line x1="467.48" y1="164.42" x2="468.07" y2="164.82" stroke="#000" stroke-width="1.56" stroke-linecap="round"/>
<line x1="468.07" y1="164.82" x2="468.62" y2="165.22" stroke="#000" stroke-width="1.49" stroke-linecap="round"/>
<line x1="468.62" y1="165.22" x2="469.12" y2="165.62" stroke="#000" stroke-width="1.41" stroke-linecap="round"/>
<line x1="469.12" y1="165.62" x2="469.58" y2="166.02" stroke="#000" stroke-width="1.33" stroke-linecap="round"/>
<line x1="469.58" y1="166.02" x2="469.99" y2="166.42" stroke="#000" stroke-width="1.24" stroke-linecap="round"/>
<line x1="469.99" y1="166.42" x2="470.35" y2="166.82" stroke="#000" stroke-width="1.15" stroke-linecap="round"/>
<line x1="470.35" y1="166.82" x2="470.65" y2="167.22" stroke="#000" stroke-width="1.06" stroke-linecap="round"/>
<line x1="470.65" y1="167.22" x2="470.90" y2="167.62" stroke="#000" stroke-width="0.97" stroke-linecap="round"/>
<line x1="470.90" y1="167.62" x2="471.08" y2="168.02" stroke="#000" stroke-width="0.87" stroke-linecap="round"/>
<line x1="471.08" y1="168.02" x2="471.22" y2="168.43" stroke="#000" stroke-width="0.77" stroke-linecap="round"/>
<line x1="471.22" y1="168.43" x2="471.29" y2="168.83" stroke="#000" stroke-width="0.67" stroke-linecap="round"/>
<line x1="451.30" y1="185.25" x2="451.32" y2="185.66" stroke="#000" stroke-width="0.68" stroke-linecap="round"/>
<line x1="451.32" y1="185.66" x2="451.39" y2="186.06" stroke="#000" stroke-width="0.78" stroke-linecap="round"/>
<line x1="451.39" y1="186.06" x2="451.53" y2="186.46" stroke="#000" stroke-width="0.88" stroke-linecap="round"/>
<line x1="451.53" y1="186.46" x2="451.72" y2="186.86" stroke="#000" stroke-width="0.97" stroke-linecap="round"/>
<line x1="451.72" y1="186.86" x2="451.97" y2="187.26" stroke="#000" stroke-width="1.07" stroke-linecap="round"/>
<line x1="451.97" y1="187.26" x2="452.28" y2="187.66" stroke="#000" stroke-width="1.16" stroke-linecap="round"/>
<line x1="452.28" y1="187.66" x2="452.64" y2="188.06" stroke="#000" stroke-width="1.25" stroke-linecap="round"/>
<line x1="452.64" y1="188.06" x2="453.05" y2="188.46" stroke="#000" stroke-width="1.34" stroke-linecap="round"/>
<line x1="453.05" y1="188.46" x2="453.52" y2="188.86" stroke="#000" stroke-width="1.42" stroke-linecap="round"/>
<line x1="453.52" y1="188.86" x2="454.03" y2="189.26" stroke="#000" stroke-width="1.49" stroke-linecap="round"/>
<line x1="454.03" y1="189.26" x2="454.58" y2="189.66" stroke="#000" stroke-width="1.56" stroke-linecap="round"/>
<line x1="454.58" y1="189.66" x2="455.17" y2="190.06" stroke="#000" stroke-width="1.63" stroke-linecap="round"/>
<line x1="455.17" y1="190.06" x2="455.80" y2="190.46" stroke="#000" stroke-width="1.69" stroke-linecap="round"/>
<line x1="455.80" y1="190.46" x2="456.46" y2="190.86" stroke="#000" stroke-width="1.74" stroke-linecap="round"/>
<line x1="456.46" y1="190.86" x2="457.16" y2="191.27" stroke="#000" stroke-width="1.78" stroke-linecap="round"/>
<line x1="457.16" y1="191.27" x2="457.87" y2="191.67" stroke="#000" stroke-width="1.82" stroke-linecap="round"/>
<line x1="457.87" y1="191.67" x2="458.61" y2="192.07" stroke="#000" stroke-width="1.85" stroke-linecap="round"/>
<line x1="458.61" y1="192.07" x2="459.36" y2="192.47" stroke="#000" stroke-width="1.88" stroke-linecap="round"/>
<line x1="459.36" y1="192.47" x2="460.13" y2="192.87" stroke="#000" stroke-width="1.89" stroke-linecap="round"/>
<line x1="460.13" y1="192.87" x2="460.90" y2="193.27" stroke="#000" stroke-width="1.90" stroke-linecap="round"/>
<line x1="460.90" y1="193.27" x2="461.68" y2="193.67" stroke="#000" stroke-width="1.90" stroke-linecap="round"/>
<line x1="461.68" y1="193.67" x2="462.45" y2="194.07" stroke="#000" stroke-width="1.89" stroke-linecap="round"/>
<line x1="462.45" y1="194.07" x2="463.21" y2="194.47" stroke="#000" stroke-width="1.88" stroke-linecap="round"/>
<line x1="463.21" y1="194.47" x2="463.97" y2="194.87" stroke="#000" stroke-width="1.85" stroke-linecap="round"/>
<line x1="463.97" y1="194.87" x2="464.70" y2="195.27" stroke="#000" stroke-width="1.82" stroke-linecap="round"/>
<line x1="464.70" y1="195.27" x2="465.42" y2="195.67" stroke="#000" stroke-width="1.78" stroke-linecap="round"/>
<line x1="465.42" y1="195.67" x2="466.11" y2="196.07" stroke="#000" stroke-width="1.74" stroke-linecap="round"/>
<line x1="466.11" y1="196.07" x2="466.78" y2="196.47" stroke="#000" stroke-width="1.69" stroke-linecap="round"/>
<line x1="466.78" y1="196.47" x2="467.41" y2="196.87" stroke="#000" stroke-width="1.63" stroke-linecap="round"/>
<line x1="467.41" y1="196.87" x2="468.00" y2="197.28" stroke="#000" stroke-width="1.56" stroke-linecap="round"/>
<line x1="468.00" y1="197.28" x2="468.56" y2="197.68" stroke="#000" stroke-width="1.49" stroke-linecap="round"/>
<line x1="468.56" y1="197.68" x2="469.07" y2="198.08" stroke="#000" stroke-width="1.42" stroke-linecap="round"/>
<line x1="469.07" y1="198.08" x2="469.53" y2="198.48" stroke="#000" stroke-width="1.34" stroke-linecap="round"/>
<line x1="469.53" y1="198.48" x2="469.95" y2="198.88" stroke="#000" stroke-width="1.25" stroke-linecap="round"/>
<line x1="469.95" y1="198.88" x2="470.31" y2="199.28" stroke="#000" stroke-width="1.16" stroke-linecap="round"/>
<line x1="470.31" y1="199.28" x2="470.62" y2="199.68" stroke="#000" stroke-width="1.07" stroke-linecap="round"/>
<line x1="470.62" y1="199.68" x2="470.87" y2="200.08" stroke="#000" stroke-width="0.98" stroke-linecap="round"/>
<line x1="470.87" y1="200.08" x2="471.07" y2="200.48" stroke="#000" stroke-width="0.88" stroke-linecap="round"/>
<line x1="471.07" y1="200.48" x2="471.20" y2="200.88" stroke="#000" stroke-width="0.78" stroke-linecap="round"/>
<line x1="471.20" y1="200.88" x2="471.28" y2="201.28" stroke="#000" stroke-width="0.68" stroke-linecap="round"/>
<line x1="453.90" y1="153.00" x2="462.90" y2="153.00" stroke="#999" stroke-width="0.4"/>
<circle cx="457.40" cy="153.00" r="1.2" fill="#e01010"/>
<circle cx="459.40" cy="153.00" r="1.2" fill="#10c8d8"/>
<line x1="457.25" y1="156.30" x2="466.25" y2="156.30" stroke="#999" stroke-width="0.4"/>
<circle cx="460.75" cy="156.30" r="1.2" fill="#e01010"/>
<circle cx="462.75" cy="156.30" r="1.2" fill="#10c8d8"/>
<line x1="460.43" y1="159.60" x2="469.43" y2="159.60" stroke="#999" stroke-width="0.4"/>
<circle cx="463.93" cy="159.60" r="1.2" fill="#e01010"/>
<circle cx="465.93" cy="159.60" r="1.2" fill="#10c8d8"/>
<line x1="462.18" y1="162.90" x2="471.18" y2="162.90" stroke="#999" stroke-width="0.4"/>
<circle cx="465.68" cy="162.90" r="1.2" fill="#e01010"/>
<circle cx="467.68" cy="162.90" r="1.2" fill="#10c8d8"/>
<line x1="461.81" y1="166.20" x2="470.81" y2="166.20" stroke="#999" stroke-width="0.4"/>
<circle cx="465.31" cy="166.20" r="1.2" fill="#10c8d8"/>
<circle cx="467.31" cy="166.20" r="1.2" fill="#e01010"/>
<line x1="459.47" y1="169.50" x2="468.47" y2="169.50" stroke="#999" stroke-width="0.4"/>
<circle cx="462.97" cy="169.50" r="1.2" fill="#10c8d8"/>
<circle cx="464.97" cy="169.50" r="1.2" fill="#e01010"/>
<line x1="456.08" y1="172.80" x2="465.08" y2="172.80" stroke="#999" stroke-width="0.4"/>
<circle cx="459.58" cy="172.80" r="1.2" fill="#10c8d8"/>
<circle cx="461.58" cy="172.80" r="1.2" fill="#e01010"/>
<line x1="452.98" y1="176.10" x2="461.98" y2="176.10" stroke="#999" stroke-width="0.4"/>
<circle cx="456.48" cy="176.10" r="1.2" fill="#10c8d8"/>
<circle cx="458.48" cy="176.10" r="1.2" fill="#e01010"/>
<line x1="451.37" y1="179.40" x2="460.37" y2="179.40" stroke="#999" stroke-width="0.4"/>
<circle cx="454.87" cy="179.40" r="1.2" fill="#10c8d8"/>
<circle cx="456.87" cy="179.40" r="1.2" fill="#e01010"/>
<line x1="451.91" y1="182.70" x2="460.91" y2="182.70" stroke="#999" stroke-width="0.4"/>
<circle cx="455.41" cy="182.70" r="1.2" fill="#e01010"/>
<circle cx="457.41" cy="182.70" r="1.2" fill="#10c8d8"/>
<line x1="454.36" y1="186.00" x2="463.36" y2="186.00" stroke="#999" stroke-width="0.4"/>
<circle cx="457.86" cy="186.00" r="1.2" fill="#e01010"/>
<circle cx="459.86" cy="186.00" r="1.2" fill="#10c8d8"/>
<line x1="457.78" y1="189.30" x2="466.78" y2="189.30" stroke="#999" stroke-width="0.4"/>
<circle cx="461.28" cy="189.30" r="1.2" fill="#e01010"/>
<circle cx="463.28" cy="189.30" r="1.2" fill="#10c8d8"/>
<line x1="460.81" y1="192.60" x2="469.81" y2="192.60" stroke="#999" stroke-width="0.4"/>
<circle cx="464.31" cy="192.60" r="1.2" fill="#e01010"/>
<circle cx="466.31" cy="192.60" r="1.2" fill="#10c8d8"/>
<line x1="462.26" y1="195.90" x2="471.26" y2="195.90" stroke="#999" stroke-width="0.4"/>
<circle cx="465.76" cy="195.90" r="1.2" fill="#e01010"/>
<circle cx="467.76" cy="195.90" r="1.2" fill="#10c8d8"/>
<line x1="461.57" y1="199.20" x2="470.57" y2="199.20" stroke="#999" stroke-width="0.4"/>
<circle cx="465.07" cy="199.20" r="1.2" fill="#10c8d8"/>
<circle cx="467.07" cy="199.20" r="1.2" fill="#e01010"/>
<line x1="459.00" y1="202.50" x2="468.00" y2="202.50" stroke="#999" stroke-width="0.4"/>
<circle cx="462.50" cy="202.50" r="1.2" fill="#10c8d8"/>
<circle cx="464.50" cy="202.50" r="1.2" fill="#e01010"/>
<line x1="455.56" y1="205.80" x2="464.56" y2="205.80" stroke="#999" stroke-width="0.4"/>
<circle cx="459.06" cy="205.80" r="1.2" fill="#10c8d8"/>
<circle cx="461.06" cy="205.80" r="1.2" fill="#e01010"/>
<line x1="471.30" y1="158.80" x2="471.28" y2="159.20" stroke="#3a2a00" stroke-width="1.37" stroke-linecap="round"/>
<line x1="471.28" y1="159.20" x2="471.21" y2="159.60" stroke="#3a2a00" stroke-width="1.46" stroke-linecap="round"/>
<line x1="471.21" y1="159.60" x2="471.07" y2="160.00" stroke="#3a2a00" stroke-width="1.55" stroke-linecap="round"/>
<line x1="471.07" y1="160.00" x2="470.88" y2="160.40" stroke="#3a2a00" stroke-width="1.64" stroke-linecap="round"/>
<line x1="470.88" y1="160.40" x2="470.63" y2="160.80" stroke="#3a2a00" stroke-width="1.73" stroke-linecap="round"/>
<line x1="470.63" y1="160.80" x2="470.33" y2="161.20" stroke="#3a2a00" stroke-width="1.82" stroke-linecap="round"/>
<line x1="470.33" y1="161.20" x2="469.97" y2="161.60" stroke="#3a2a00" stroke-width="1.90" stroke-linecap="round"/>
<line x1="469.97" y1="161.60" x2="469.56" y2="162.00" stroke="#3a2a00" stroke-width="1.98" stroke-linecap="round"/>
<line x1="469.56" y1="162.00" x2="469.10" y2="162.40" stroke="#3a2a00" stroke-width="2.05" stroke-linecap="round"/>
<line x1="469.10" y1="162.40" x2="468.59" y2="162.80" stroke="#3a2a00" stroke-width="2.12" stroke-linecap="round"/>
<line x1="468.59" y1="162.80" x2="468.04" y2="163.20" stroke="#3a2a00" stroke-width="2.19" stroke-linecap="round"/>
<line x1="468.04" y1="163.20" x2="467.45" y2="163.60" stroke="#3a2a00" stroke-width="2.25" stroke-linecap="round"/>
<line x1="467.45" y1="163.60" x2="466.82" y2="164.00" stroke="#3a2a00" stroke-width="2.30" stroke-linecap="round"/>
<line x1="466.82" y1="164.00" x2="466.16" y2="164.40" stroke="#3a2a00" stroke-width="2.35" stroke-linecap="round"/>
<line x1="466.16" y1="164.40" x2="465.47" y2="164.80" stroke="#3a2a00" stroke-width="2.39" stroke-linecap="round"/>
<line x1="465.47" y1="164.80" x2="464.76" y2="165.20" stroke="#3a2a00" stroke-width="2.43" stroke-linecap="round"/>
<line x1="464.76" y1="165.20" x2="464.02" y2="165.60" stroke="#3a2a00" stroke-width="2.45" stroke-linecap="round"/>
<line x1="464.02" y1="165.60" x2="463.27" y2="166.00" stroke="#3a2a00" stroke-width="2.48" stroke-linecap="round"/>
<line x1="463.27" y1="166.00" x2="462.51" y2="166.40" stroke="#3a2a00" stroke-width="2.49" stroke-linecap="round"/>
<line x1="462.51" y1="166.40" x2="461.73" y2="166.80" stroke="#3a2a00" stroke-width="2.50" stroke-linecap="round"/>
<line x1="461.73" y1="166.80" x2="460.96" y2="167.20" stroke="#3a2a00" stroke-width="2.50" stroke-linecap="round"/>
<line x1="460.96" y1="167.20" x2="460.19" y2="167.60" stroke="#3a2a00" stroke-width="2.49" stroke-linecap="round"/>
<line x1="460.19" y1="167.60" x2="459.43" y2="168.00" stroke="#3a2a00" stroke-width="2.48" stroke-linecap="round"/>
<line x1="459.43" y1="168.00" x2="458.67" y2="168.40" stroke="#3a2a00" stroke-width="2.46" stroke-linecap="round"/>
<line x1="458.67" y1="168.40" x2="457.94" y2="168.80" stroke="#3a2a00" stroke-width="2.43" stroke-linecap="round"/>
<line x1="457.94" y1="168.80" x2="457.22" y2="169.20" stroke="#3a2a00" stroke-width="2.40" stroke-linecap="round"/>
<line x1="457.22" y1="169.20" x2="456.52" y2="169.60" stroke="#3a2a00" stroke-width="2.35" stroke-linecap="round"/>
<line x1="456.52" y1="169.60" x2="455.86" y2="170.00" stroke="#3a2a00" stroke-width="2.31" stroke-linecap="round"/>
<line x1="455.86" y1="170.00" x2="455.23" y2="170.40" stroke="#3a2a00" stroke-width="2.25" stroke-linecap="round"/>
<line x1="455.23" y1="170.40" x2="454.63" y2="170.80" stroke="#3a2a00" stroke-width="2.19" stroke-linecap="round"/>
<line x1="454.63" y1="170.80" x2="454.08" y2="171.20" stroke="#3a2a00" stroke-width="2.13" stroke-linecap="round"/>
<line x1="454.08" y1="171.20" x2="453.56" y2="171.60" stroke="#3a2a00" stroke-width="2.06" stroke-linecap="round"/>
<line x1="453.56" y1="171.60" x2="453.10" y2="172.00" stroke="#3a2a00" stroke-width="1.99" stroke-linecap="round"/>
<line x1="453.10" y1="172.00" x2="452.68" y2="172.40" stroke="#3a2a00" stroke-width="1.91" stroke-linecap="round"/>
<line x1="452.68" y1="172.40" x2="452.31" y2="172.80" stroke="#3a2a00" stroke-width="1.83" stroke-linecap="round"/>
<line x1="452.31" y1="172.80" x2="452.00" y2="173.20" stroke="#3a2a00" stroke-width="1.74" stroke-linecap="round"/>
<line x1="452.00" y1="173.20" x2="451.75" y2="173.60" stroke="#3a2a00" stroke-width="1.65" stroke-linecap="round"/>
<line x1="451.75" y1="173.60" x2="451.55" y2="174.00" stroke="#3a2a00" stroke-width="1.56" stroke-linecap="round"/>
<line x1="451.55" y1="174.00" x2="451.40" y2="174.40" stroke="#3a2a00" stroke-width="1.47" stroke-linecap="round"/>
<line x1="451.40" y1="174.40" x2="451.32" y2="174.80" stroke="#3a2a00" stroke-width="1.38" stroke-linecap="round"/>
<line x1="471.29" y1="191.20" x2="471.29" y2="191.60" stroke="#3a2a00" stroke-width="1.35" stroke-linecap="round"/>
<line x1="471.29" y1="191.60" x2="471.23" y2="192.00" stroke="#3a2a00" stroke-width="1.44" stroke-linecap="round"/>
<line x1="471.23" y1="192.00" x2="471.11" y2="192.40" stroke="#3a2a00" stroke-width="1.53" stroke-linecap="round"/>
<line x1="471.11" y1="192.40" x2="470.94" y2="192.80" stroke="#3a2a00" stroke-width="1.62" stroke-linecap="round"/>
<line x1="470.94" y1="192.80" x2="470.70" y2="193.20" stroke="#3a2a00" stroke-width="1.71" stroke-linecap="round"/>
<line x1="470.70" y1="193.20" x2="470.41" y2="193.60" stroke="#3a2a00" stroke-width="1.80" stroke-linecap="round"/>
<line x1="470.41" y1="193.60" x2="470.06" y2="194.00" stroke="#3a2a00" stroke-width="1.88" stroke-linecap="round"/>
<line x1="470.06" y1="194.00" x2="469.66" y2="194.40" stroke="#3a2a00" stroke-width="1.96" stroke-linecap="round"/>
<line x1="469.66" y1="194.40" x2="469.22" y2="194.80" stroke="#3a2a00" stroke-width="2.03" stroke-linecap="round"/>
<line x1="469.22" y1="194.80" x2="468.72" y2="195.20" stroke="#3a2a00" stroke-width="2.10" stroke-linecap="round"/>
<line x1="468.72" y1="195.20" x2="468.18" y2="195.60" stroke="#3a2a00" stroke-width="2.17" stroke-linecap="round"/>
<line x1="468.18" y1="195.60" x2="467.60" y2="196.00" stroke="#3a2a00" stroke-width="2.23" stroke-linecap="round"/>
<line x1="467.60" y1="196.00" x2="466.98" y2="196.40" stroke="#3a2a00" stroke-width="2.29" stroke-linecap="round"/>
<line x1="466.98" y1="196.40" x2="466.33" y2="196.80" stroke="#3a2a00" stroke-width="2.34" stroke-linecap="round"/>
<line x1="466.33" y1="196.80" x2="465.65" y2="197.20" stroke="#3a2a00" stroke-width="2.38" stroke-linecap="round"/>
<line x1="465.65" y1="197.20" x2="464.94" y2="197.60" stroke="#3a2a00" stroke-width="2.42" stroke-linecap="round"/>
<line x1="464.94" y1="197.60" x2="464.21" y2="198.00" stroke="#3a2a00" stroke-width="2.45" stroke-linecap="round"/>
<line x1="464.21" y1="198.00" x2="463.46" y2="198.40" stroke="#3a2a00" stroke-width="2.47" stroke-linecap="round"/>
<line x1="463.46" y1="198.40" x2="462.70" y2="198.80" stroke="#3a2a00" stroke-width="2.49" stroke-linecap="round"/>
<line x1="462.70" y1="198.80" x2="461.93" y2="199.20" stroke="#3a2a00" stroke-width="2.50" stroke-linecap="round"/>
<line x1="461.93" y1="199.20" x2="461.16" y2="199.60" stroke="#3a2a00" stroke-width="2.50" stroke-linecap="round"/>
<line x1="461.16" y1="199.60" x2="460.38" y2="200.00" stroke="#3a2a00" stroke-width="2.49" stroke-linecap="round"/>
<line x1="460.38" y1="200.00" x2="459.62" y2="200.40" stroke="#3a2a00" stroke-width="2.48" stroke-linecap="round"/>
<line x1="459.62" y1="200.40" x2="458.86" y2="200.80" stroke="#3a2a00" stroke-width="2.46" stroke-linecap="round"/>
<line x1="458.86" y1="200.80" x2="458.12" y2="201.20" stroke="#3a2a00" stroke-width="2.44" stroke-linecap="round"/>
<line x1="458.12" y1="201.20" x2="457.40" y2="201.60" stroke="#3a2a00" stroke-width="2.40" stroke-linecap="round"/>
<line x1="457.40" y1="201.60" x2="456.70" y2="202.00" stroke="#3a2a00" stroke-width="2.37" stroke-linecap="round"/>
<line x1="456.70" y1="202.00" x2="456.02" y2="202.40" stroke="#3a2a00" stroke-width="2.32" stroke-linecap="round"/>
<line x1="456.02" y1="202.40" x2="455.38" y2="202.80" stroke="#3a2a00" stroke-width="2.27" stroke-linecap="round"/>
<line x1="455.38" y1="202.80" x2="454.78" y2="203.20" stroke="#3a2a00" stroke-width="2.21" stroke-linecap="round"/>
<line x1="454.78" y1="203.20" x2="454.21" y2="203.60" stroke="#3a2a00" stroke-width="2.15" stroke-linecap="round"/>
<line x1="454.21" y1="203.60" x2="453.69" y2="204.00" stroke="#3a2a00" stroke-width="2.08" stroke-linecap="round"/>
<line x1="453.69" y1="204.00" x2="453.21" y2="204.40" stroke="#3a2a00" stroke-width="2.01" stroke-linecap="round"/>
<line x1="453.21" y1="204.40" x2="452.78" y2="204.80" stroke="#3a2a00" stroke-width="1.93" stroke-linecap="round"/>
<line x1="452.78" y1="204.80" x2="452.40" y2="205.20" stroke="#3a2a00" stroke-width="1.85" stroke-linecap="round"/>
<line x1="452.40" y1="205.20" x2="452.08" y2="205.60" stroke="#3a2a00" stroke-width="1.76" stroke-linecap="round"/>
<line x1="452.08" y1="205.60" x2="451.80" y2="206.00" stroke="#3a2a00" stroke-width="1.68" stroke-linecap="round"/>
<line x1="451.80" y1="206.00" x2="451.59" y2="206.40" stroke="#3a2a00" stroke-width="1.59" stroke-linecap="round"/>
<line x1="451.59" y1="206.40" x2="451.43" y2="206.80" stroke="#3a2a00" stroke-width="1.50" stroke-linecap="round"/>
<line x1="471.29" y1="168.83" x2="471.30" y2="169.23" stroke="#3a2a00" stroke-width="1.33" stroke-linecap="round"/>
<line x1="471.30" y1="169.23" x2="471.25" y2="169.63" stroke="#3a2a00" stroke-width="1.42" stroke-linecap="round"/>
<line x1="471.25" y1="169.63" x2="471.14" y2="170.03" stroke="#3a2a00" stroke-width="1.51" stroke-linecap="round"/>
<line x1="471.14" y1="170.03" x2="470.97" y2="170.43" stroke="#3a2a00" stroke-width="1.60" stroke-linecap="round"/>
<line x1="470.97" y1="170.43" x2="470.75" y2="170.83" stroke="#3a2a00" stroke-width="1.69" stroke-linecap="round"/>
<line x1="470.75" y1="170.83" x2="470.46" y2="171.23" stroke="#3a2a00" stroke-width="1.78" stroke-linecap="round"/>
<line x1="470.46" y1="171.23" x2="470.13" y2="171.63" stroke="#3a2a00" stroke-width="1.86" stroke-linecap="round"/>
<line x1="470.13" y1="171.63" x2="469.74" y2="172.03" stroke="#3a2a00" stroke-width="1.94" stroke-linecap="round"/>
<line x1="469.74" y1="172.03" x2="469.30" y2="172.43" stroke="#3a2a00" stroke-width="2.02" stroke-linecap="round"/>
<line x1="469.30" y1="172.43" x2="468.81" y2="172.83" stroke="#3a2a00" stroke-width="2.09" stroke-linecap="round"/>
<line x1="468.81" y1="172.83" x2="468.27" y2="173.23" stroke="#3a2a00" stroke-width="2.16" stroke-linecap="round"/>
<line x1="468.27" y1="173.23" x2="467.70" y2="173.63" stroke="#3a2a00" stroke-width="2.22" stroke-linecap="round"/>
<line x1="467.70" y1="173.63" x2="467.08" y2="174.03" stroke="#3a2a00" stroke-width="2.28" stroke-linecap="round"/>
<line x1="467.08" y1="174.03" x2="466.44" y2="174.44" stroke="#3a2a00" stroke-width="2.33" stroke-linecap="round"/>
<line x1="466.44" y1="174.44" x2="465.76" y2="174.84" stroke="#3a2a00" stroke-width="2.37" stroke-linecap="round"/>
<line x1="465.76" y1="174.84" x2="465.05" y2="175.24" stroke="#3a2a00" stroke-width="2.41" stroke-linecap="round"/>
<line x1="465.05" y1="175.24" x2="464.32" y2="175.64" stroke="#3a2a00" stroke-width="2.44" stroke-linecap="round"/>
<line x1="464.32" y1="175.64" x2="463.57" y2="176.04" stroke="#3a2a00" stroke-width="2.47" stroke-linecap="round"/>
<line x1="463.57" y1="176.04" x2="462.81" y2="176.44" stroke="#3a2a00" stroke-width="2.49" stroke-linecap="round"/>
<line x1="462.81" y1="176.44" x2="462.04" y2="176.84" stroke="#3a2a00" stroke-width="2.50" stroke-linecap="round"/>
<line x1="462.04" y1="176.84" x2="461.27" y2="177.24" stroke="#3a2a00" stroke-width="2.50" stroke-linecap="round"/>
<line x1="461.27" y1="177.24" x2="460.50" y2="177.64" stroke="#3a2a00" stroke-width="2.50" stroke-linecap="round"/>
<line x1="460.50" y1="177.64" x2="459.73" y2="178.04" stroke="#3a2a00" stroke-width="2.49" stroke-linecap="round"/>
<line x1="459.73" y1="178.04" x2="458.97" y2="178.44" stroke="#3a2a00" stroke-width="2.47" stroke-linecap="round"/>
<line x1="458.97" y1="178.44" x2="458.22" y2="178.84" stroke="#3a2a00" stroke-width="2.44" stroke-linecap="round"/>
<line x1="458.22" y1="178.84" x2="457.49" y2="179.24" stroke="#3a2a00" stroke-width="2.41" stroke-linecap="round"/>
<line x1="457.49" y1="179.24" x2="456.79" y2="179.64" stroke="#3a2a00" stroke-width="2.37" stroke-linecap="round"/>
<line x1="456.79" y1="179.64" x2="456.11" y2="180.05" stroke="#3a2a00" stroke-width="2.33" stroke-linecap="round"/>
<line x1="456.11" y1="180.05" x2="455.47" y2="180.45" stroke="#3a2a00" stroke-width="2.27" stroke-linecap="round"/>
<line x1="455.47" y1="180.45" x2="454.86" y2="180.85" stroke="#3a2a00" stroke-width="2.22" stroke-linecap="round"/>
<line x1="454.86" y1="180.85" x2="454.28" y2="181.25" stroke="#3a2a00" stroke-width="2.16" stroke-linecap="round"/>
<line x1="454.28" y1="181.25" x2="453.75" y2="181.65" stroke="#3a2a00" stroke-width="2.09" stroke-linecap="round"/>
<line x1="453.75" y1="181.65" x2="453.27" y2="182.05" stroke="#3a2a00" stroke-width="2.01" stroke-linecap="round"/>
<line x1="453.27" y1="182.05" x2="452.83" y2="182.45" stroke="#3a2a00" stroke-width="1.94" stroke-linecap="round"/>
<line x1="452.83" y1="182.45" x2="452.45" y2="182.85" stroke="#3a2a00" stroke-width="1.86" stroke-linecap="round"/>
<line x1="452.45" y1="182.85" x2="452.11" y2="183.25" stroke="#3a2a00" stroke-width="1.77" stroke-linecap="round"/>
<line x1="452.11" y1="183.25" x2="451.83" y2="183.65" stroke="#3a2a00" stroke-width="1.69" stroke-linecap="round"/>
<line x1="451.83" y1="183.65" x2="451.61" y2="184.05" stroke="#3a2a00" stroke-width="1.60" stroke-linecap="round"/>
<line x1="451.61" y1="184.05" x2="451.45" y2="184.45" stroke="#3a2a00" stroke-width="1.51" stroke-linecap="round"/>
<line x1="451.45" y1="184.45" x2="451.35" y2="184.85" stroke="#3a2a00" stroke-width="1.41" stroke-linecap="round"/>
<line x1="451.35" y1="184.85" x2="451.30" y2="185.25" stroke="#3a2a00" stroke-width="1.32" stroke-linecap="round"/>
<line x1="471.28" y1="201.28" x2="471.30" y2="201.68" stroke="#3a2a00" stroke-width="1.32" stroke-linecap="round"/>
<line x1="471.30" y1="201.68" x2="471.26" y2="202.08" stroke="#3a2a00" stroke-width="1.41" stroke-linecap="round"/>
<line x1="471.26" y1="202.08" x2="471.15" y2="202.48" stroke="#3a2a00" stroke-width="1.50" stroke-linecap="round"/>
<line x1="471.15" y1="202.48" x2="470.99" y2="202.89" stroke="#3a2a00" stroke-width="1.60" stroke-linecap="round"/>
<line x1="470.99" y1="202.89" x2="470.77" y2="203.29" stroke="#3a2a00" stroke-width="1.68" stroke-linecap="round"/>
<line x1="470.77" y1="203.29" x2="470.50" y2="203.69" stroke="#3a2a00" stroke-width="1.77" stroke-linecap="round"/>
<line x1="470.50" y1="203.69" x2="470.17" y2="204.09" stroke="#3a2a00" stroke-width="1.86" stroke-linecap="round"/>
<line x1="470.17" y1="204.09" x2="469.78" y2="204.49" stroke="#3a2a00" stroke-width="1.94" stroke-linecap="round"/>
<line x1="469.78" y1="204.49" x2="469.35" y2="204.89" stroke="#3a2a00" stroke-width="2.01" stroke-linecap="round"/>
<line x1="469.35" y1="204.89" x2="468.86" y2="205.29" stroke="#3a2a00" stroke-width="2.09" stroke-linecap="round"/>
<line x1="468.86" y1="205.29" x2="468.33" y2="205.69" stroke="#3a2a00" stroke-width="2.15" stroke-linecap="round"/>
<line x1="468.33" y1="205.69" x2="467.76" y2="206.09" stroke="#3a2a00" stroke-width="2.22" stroke-linecap="round"/>
<line x1="467.76" y1="206.09" x2="467.15" y2="206.49" stroke="#3a2a00" stroke-width="2.27" stroke-linecap="round"/>
<line x1="467.15" y1="206.49" x2="466.51" y2="206.89" stroke="#3a2a00" stroke-width="2.32" stroke-linecap="round"/>
<line x1="466.51" y1="206.89" x2="465.83" y2="207.29" stroke="#3a2a00" stroke-width="2.37" stroke-linecap="round"/>
<line x1="465.83" y1="207.29" x2="465.13" y2="207.69" stroke="#3a2a00" stroke-width="2.41" stroke-linecap="round"/>
<line x1="465.13" y1="207.69" x2="464.40" y2="208.09" stroke="#3a2a00" stroke-width="2.44" stroke-linecap="round"/>
<line x1="464.40" y1="208.09" x2="463.66" y2="208.50" stroke="#3a2a00" stroke-width="2.47" stroke-linecap="round"/>
<line x1="463.66" y1="208.50" x2="462.90" y2="208.90" stroke="#3a2a00" stroke-width="2.48" stroke-linecap="round"/>
<line x1="462.90" y1="208.90" x2="462.13" y2="209.30" stroke="#3a2a00" stroke-width="2.50" stroke-linecap="round"/>
<line x1="462.13" y1="209.30" x2="461.35" y2="209.70" stroke="#3a2a00" stroke-width="2.50" stroke-linecap="round"/>
<line x1="461.35" y1="209.70" x2="460.58" y2="210.10" stroke="#3a2a00" stroke-width="2.50" stroke-linecap="round"/>
<line x1="460.58" y1="210.10" x2="459.81" y2="210.50" stroke="#3a2a00" stroke-width="2.49" stroke-linecap="round"/>
<line x1="459.81" y1="210.50" x2="459.05" y2="210.90" stroke="#3a2a00" stroke-width="2.47" stroke-linecap="round"/>
<line x1="459.05" y1="210.90" x2="458.30" y2="211.30" stroke="#3a2a00" stroke-width="2.44" stroke-linecap="round"/>
<line x1="471.30" y1="158.80" x2="471.28" y2="159.20" stroke="#f2b600" stroke-width="0.67" stroke-linecap="round"/>
<line x1="471.28" y1="159.20" x2="471.21" y2="159.60" stroke="#f2b600" stroke-width="0.76" stroke-linecap="round"/>
<line x1="471.21" y1="159.60" x2="471.07" y2="160.00" stroke="#f2b600" stroke-width="0.85" stroke-linecap="round"/>
<line x1="471.07" y1="160.00" x2="470.88" y2="160.40" stroke="#f2b600" stroke-width="0.94" stroke-linecap="round"/>
<line x1="470.88" y1="160.40" x2="470.63" y2="160.80" stroke="#f2b600" stroke-width="1.03" stroke-linecap="round"/>
<line x1="470.63" y1="160.80" x2="470.33" y2="161.20" stroke="#f2b600" stroke-width="1.12" stroke-linecap="round"/>
<line x1="470.33" y1="161.20" x2="469.97" y2="161.60" stroke="#f2b600" stroke-width="1.20" stroke-linecap="round"/>
<line x1="469.97" y1="161.60" x2="469.56" y2="162.00" stroke="#f2b600" stroke-width="1.28" stroke-linecap="round"/>
<line x1="469.56" y1="162.00" x2="469.10" y2="162.40" stroke="#f2b600" stroke-width="1.35" stroke-linecap="round"/>
<line x1="469.10" y1="162.40" x2="468.59" y2="162.80" stroke="#f2b600" stroke-width="1.42" stroke-linecap="round"/>
<line x1="468.59" y1="162.80" x2="468.04" y2="163.20" stroke="#f2b600" stroke-width="1.49" stroke-linecap="round"/>
<line x1="468.04" y1="163.20" x2="467.45" y2="163.60" stroke="#f2b600" stroke-width="1.55" stroke-linecap="round"/>
<line x1="467.45" y1="163.60" x2="466.82" y2="164.00" stroke="#f2b600" stroke-width="1.60" stroke-linecap="round"/>
<line x1="466.82" y1="164.00" x2="466.16" y2="164.40" stroke="#f2b600" stroke-width="1.65" stroke-linecap="round"/>
<line x1="466.16" y1="164.40" x2="465.47" y2="164.80" stroke="#f2b600" stroke-width="1.69" stroke-linecap="round"/>
<line x1="465.47" y1="164.80" x2="464.76" y2="165.20" stroke="#f2b600" stroke-width="1.73" stroke-linecap="round"/>
<line x1="464.76" y1="165.20" x2="464.02" y2="165.60" stroke="#f2b600" stroke-width="1.75" stroke-linecap="round"/>
<line x1="464.02" y1="165.60" x2="463.27" y2="166.00" stroke="#f2b600" stroke-width="1.78" stroke-linecap="round"/>
<line x1="463.27" y1="166.00" x2="462.51" y2="166.40" stroke="#f2b600" stroke-width="1.79" stroke-linecap="round"/>
<line x1="462.51" y1="166.40" x2="461.73" y2="166.80" stroke="#f2b600" stroke-width="1.80" stroke-linecap="round"/>
<line x1="461.73" y1="166.80" x2="460.96" y2="167.20" stroke="#f2b600" stroke-width="1.80" stroke-linecap="round"/>
<line x1="460.96" y1="167.20" x2="460.19" y2="167.60" stroke="#f2b600" stroke-width="1.79" stroke-linecap="round"/>
<line x1="460.19" y1="167.60" x2="459.43" y2="168.00" stroke="#f2b600" stroke-width="1.78" stroke-linecap="round"/>
<line x1="459.43" y1="168.00" x2="458.67" y2="168.40" stroke="#f2b600" stroke-width="1.76" stroke-linecap="round"/>
<line x1="458.67" y1="168.40" x2="457.94" y2="168.80" stroke="#f2b600" stroke-width="1.73" stroke-linecap="round"/>
<line x1="457.94" y1="168.80" x2="457.22" y2="169.20" stroke="#f2b600" stroke-width="1.70" stroke-linecap="round"/>
<line x1="457.22" y1="169.20" x2="456.52" y2="169.60" stroke="#f2b600" stroke-width="1.65" stroke-linecap="round"/>
<line x1="456.52" y1="169.60" x2="455.86" y2="170.00" stroke="#f2b600" stroke-width="1.61" stroke-linecap="round"/>
<line x1="455.86" y1="170.00" x2="455.23" y2="170.40" stroke="#f2b600" stroke-width="1.55" stroke-linecap="round"/>
<line x1="455.23" y1="170.40" x2="454.63" y2="170.80" stroke="#f2b600" stroke-width="1.49" stroke-linecap="round"/>
<line x1="454.63" y1="170.80" x2="454.08" y2="171.20" stroke="#f2b600" stroke-width="1.43" stroke-linecap="round"/>
<line x1="454.08" y1="171.20" x2="453.56" y2="171.60" stroke="#f2b600" stroke-width="1.36" stroke-linecap="round"/>
<line x1="453.56" y1="171.60" x2="453.10" y2="172.00" stroke="#f2b600" stroke-width="1.29" stroke-linecap="round"/>
<line x1="453.10" y1="172.00" x2="452.68" y2="172.40" stroke="#f2b600" stroke-width="1.21" stroke-linecap="round"/>
<line x1="452.68" y1="172.40" x2="452.31" y2="172.80" stroke="#f2b600" stroke-width="1.13" stroke-linecap="round"/>
<line x1="452.31" y1="172.80" x2="452.00" y2="173.20" stroke="#f2b600" stroke-width="1.04" stroke-linecap="round"/>
<line x1="452.00" y1="173.20" x2="451.75" y2="173.60" stroke="#f2b600" stroke-width="0.95" stroke-linecap="round"/>
<line x1="451.75" y1="173.60" x2="451.55" y2="174.00" stroke="#f2b600" stroke-width="0.86" stroke-linecap="round"/>
<line x1="451.55" y1="174.00" x2="451.40" y2="174.40" stroke="#f2b600" stroke-width="0.77" stroke-linecap="round"/>
<line x1="451.40" y1="174.40" x2="451.32" y2="174.80" stroke="#f2b600" stroke-width="0.68" stroke-linecap="round"/>
<line x1="471.29" y1="191.20" x2="471.29" y2="191.60" stroke="#f2b600" stroke-width="0.65" stroke-linecap="round"/>
<line x1="471.29" y1="191.60" x2="471.23" y2="192.00" stroke="#f2b600" stroke-width="0.74" stroke-linecap="round"/>
<line x1="471.23" y1="192.00" x2="471.11" y2="192.40" stroke="#f2b600" stroke-width="0.83" stroke-linecap="round"/>
<line x1="471.11" y1="192.40" x2="470.94" y2="192.80" stroke="#f2b600" stroke-width="0.92" stroke-linecap="round"/>
<line x1="470.94" y1="192.80" x2="470.70" y2="193.20" stroke="#f2b600" stroke-width="1.01" stroke-linecap="round"/>
<line x1="470.70" y1="193.20" x2="470.41" y2="193.60" stroke="#f2b600" stroke-width="1.10" stroke-linecap="round"/>
<line x1="470.41" y1="193.60" x2="470.06" y2="194.00" stroke="#f2b600" stroke-width="1.18" stroke-linecap="round"/>
<line x1="470.06" y1="194.00" x2="469.66" y2="194.40" stroke="#f2b600" stroke-width="1.26" stroke-linecap="round"/>
<line x1="469.66" y1="194.40" x2="469.22" y2="194.80" stroke="#f2b600" stroke-width="1.33" stroke-linecap="round"/>
<line x1="469.22" y1="194.80" x2="468.72" y2="195.20" stroke="#f2b600" stroke-width="1.40" stroke-linecap="round"/>
<line x1="468.72" y1="195.20" x2="468.18" y2="195.60" stroke="#f2b600" stroke-width="1.47" stroke-linecap="round"/>
<line x1="468.18" y1="195.60" x2="467.60" y2="196.00" stroke="#f2b600" stroke-width="1.53" stroke-linecap="round"/>
<line x1="467.60" y1="196.00" x2="466.98" y2="196.40" stroke="#f2b600" stroke-width="1.59" stroke-linecap="round"/>
<line x1="466.98" y1="196.40" x2="466.33" y2="196.80" stroke="#f2b600" stroke-width="1.64" stroke-linecap="round"/>
<line x1="466.33" y1="196.80" x2="465.65" y2="197.20" stroke="#f2b600" stroke-width="1.68" stroke-linecap="round"/>
<line x1="465.65" y1="197.20" x2="464.94" y2="197.60" stroke="#f2b600" stroke-width="1.72" stroke-linecap="round"/>
<line x1="464.94" y1="197.60" x2="464.21" y2="198.00" stroke="#f2b600" stroke-width="1.75" stroke-linecap="round"/>
<line x1="464.21" y1="198.00" x2="463.46" y2="198.40" stroke="#f2b600" stroke-width="1.77" stroke-linecap="round"/>
<line x1="463.46" y1="198.40" x2="462.70" y2="198.80" stroke="#f2b600" stroke-width="1.79" stroke-linecap="round"/>
<line x1="462.70" y1="198.80" x2="461.93" y2="199.20" stroke="#f2b600" stroke-width="1.80" stroke-linecap="round"/>
<line x1="461.93" y1="199.20" x2="461.16" y2="199.60" stroke="#f2b600" stroke-width="1.80" stroke-linecap="round"/>
<line x1="461.16" y1="199.60" x2="460.38" y2="200.00" stroke="#f2b600" stroke-width="1.79" stroke-linecap="round"/>
<line x1="460.38" y1="200.00" x2="459.62" y2="200.40" stroke="#f2b600" stroke-width="1.78" stroke-linecap="round"/>
<line x1="459.62" y1="200.40" x2="458.86" y2="200.80" stroke="#f2b600" stroke-width="1.76" stroke-linecap="round"/>
<line x1="458.86" y1="200.80" x2="458.12" y2="201.20" stroke="#f2b600" stroke-width="1.74" stroke-linecap="round"/>
<line x1="458.12" y1="201.20" x2="457.40" y2="201.60" stroke="#f2b600" stroke-width="1.70" stroke-linecap="round"/>
<line x1="457.40" y1="201.60" x2="456.70" y2="202.00" stroke="#f2b600" stroke-width="1.67" stroke-linecap="round"/>
<line x1="456.70" y1="202.00" x2="456.02" y2="202.40" stroke="#f2b600" stroke-width="1.62" stroke-linecap="round"/>
<line x1="456.02" y1="202.40" x2="455.38" y2="202.80" stroke="#f2b600" stroke-width="1.57" stroke-linecap="round"/>
<line x1="455.38" y1="202.80" x2="454.78" y2="203.20" stroke="#f2b600" stroke-width="1.51" stroke-linecap="round"/>
<line x1="454.78" y1="203.20" x2="454.21" y2="203.60" stroke="#f2b600" stroke-width="1.45" stroke-linecap="round"/>
<line x1="454.21" y1="203.60" x2="453.69" y2="204.00" stroke="#f2b600" stroke-width="1.38" stroke-linecap="round"/>
<line x1="453.69" y1="204.00" x2="453.21" y2="204.40" stroke="#f2b600" stroke-width="1.31" stroke-linecap="round"/>
<line x1="453.21" y1="204.40" x2="452.78" y2="204.80" stroke="#f2b600" stroke-width="1.23" stroke-linecap="round"/>
<line x1="452.78" y1="204.80" x2="452.40" y2="205.20" stroke="#f2b600" stroke-width="1.15" stroke-linecap="round"/>
<line x1="452.40" y1="205.20" x2="452.08" y2="205.60" stroke="#f2b600" stroke-width="1.06" stroke-linecap="round"/>
<line x1="452.08" y1="205.60" x2="451.80" y2="206.00" stroke="#f2b600" stroke-width="0.98" stroke-linecap="round"/>
<line x1="451.80" y1="206.00" x2="451.59" y2="206.40" stroke="#f2b600" stroke-width="0.89" stroke-linecap="round"/>
<line x1="451.59" y1="206.40" x2="451.43" y2="206.80" stroke="#f2b600" stroke-width="0.80" stroke-linecap="round"/>
<line x1="471.29" y1="168.83" x2="471.30" y2="169.23" stroke="#f2b600" stroke-width="0.63" stroke-linecap="round"/>
<line x1="471.30" y1="169.23" x2="471.25" y2="169.63" stroke="#f2b600" stroke-width="0.72" stroke-linecap="round"/>
<line x1="471.25" y1="169.63" x2="471.14" y2="170.03" stroke="#f2b600" stroke-width="0.81" stroke-linecap="round"/>
<line x1="471.14" y1="170.03" x2="470.97" y2="170.43" stroke="#f2b600" stroke-width="0.90" stroke-linecap="round"/>
<line x1="470.97" y1="170.43" x2="470.75" y2="170.83" stroke="#f2b600" stroke-width="0.99" stroke-linecap="round"/>
<line x1="470.75" y1="170.83" x2="470.46" y2="171.23" stroke="#f2b600" stroke-width="1.08" stroke-linecap="round"/>
<line x1="470.46" y1="171.23" x2="470.13" y2="171.63" stroke="#f2b600" stroke-width="1.16" stroke-linecap="round"/>
<line x1="470.13" y1="171.63" x2="469.74" y2="172.03" stroke="#f2b600" stroke-width="1.24" stroke-linecap="round"/>
<line x1="469.74" y1="172.03" x2="469.30" y2="172.43" stroke="#f2b600" stroke-width="1.32" stroke-linecap="round"/>
<line x1="469.30" y1="172.43" x2="468.81" y2="172.83" stroke="#f2b600" stroke-width="1.39" stroke-linecap="round"/>
<line x1="468.81" y1="172.83" x2="468.27" y2="173.23" stroke="#f2b600" stroke-width="1.46" stroke-linecap="round"/>
<line x1="468.27" y1="173.23" x2="467.70" y2="173.63" stroke="#f2b600" stroke-width="1.52" stroke-linecap="round"/>
<line x1="467.70" y1="173.63" x2="467.08" y2="174.03" stroke="#f2b600" stroke-width="1.58" stroke-linecap="round"/>
<line x1="467.08" y1="174.03" x2="466.44" y2="174.44" stroke="#f2b600" stroke-width="1.63" stroke-linecap="round"/>
<line x1="466.44" y1="174.44" x2="465.76" y2="174.84" stroke="#f2b600" stroke-width="1.67" stroke-linecap="round"/>
<line x1="465.76" y1="174.84" x2="465.05" y2="175.24" stroke="#f2b600" stroke-width="1.71" stroke-linecap="round"/>
<line x1="465.05" y1="175.24" x2="464.32" y2="175.64" stroke="#f2b600" stroke-width="1.74" stroke-linecap="round"/>
<line x1="464.32" y1="175.64" x2="463.57" y2="176.04" stroke="#f2b600" stroke-width="1.77" stroke-linecap="round"/>
<line x1="463.57" y1="176.04" x2="462.81" y2="176.44" stroke="#f2b600" stroke-width="1.79" stroke-linecap="round"/>
<line x1="462.81" y1="176.44" x2="462.04" y2="176.84" stroke="#f2b600" stroke-width="1.80" stroke-linecap="round"/>
<line x1="462.04" y1="176.84" x2="461.27" y2="177.24" stroke="#f2b600" stroke-width="1.80" stroke-linecap="round"/>
<line x1="461.27" y1="177.24" x2="460.50" y2="177.64" stroke="#f2b600" stroke-width="1.80" stroke-linecap="round"/>
<line x1="460.50" y1="177.64" x2="459.73" y2="178.04" stroke="#f2b600" stroke-width="1.79" stroke-linecap="round"/>
<line x1="459.73" y1="178.04" x2="458.97" y2="178.44" stroke="#f2b600" stroke-width="1.77" stroke-linecap="round"/>
<line x1="458.97" y1="178.44" x2="458.22" y2="178.84" stroke="#f2b600" stroke-width="1.74" stroke-linecap="round"/>
<line x1="458.22" y1="178.84" x2="457.49" y2="179.24" stroke="#f2b600" stroke-width="1.71" stroke-linecap="round"/>
<line x1="457.49" y1="179.24" x2="456.79" y2="179.64" stroke="#f2b600" stroke-width="1.67" stroke-linecap="round"/>
<line x1="456.79" y1="179.64" x2="456.11" y2="180.05" stroke="#f2b600" stroke-width="1.63" stroke-linecap="round"/>
<line x1="456.11" y1="180.05" x2="455.47" y2="180.45" stroke="#f2b600" stroke-width="1.57" stroke-linecap="round"/>
<line x1="455.47" y1="180.45" x2="454.86" y2="180.85" stroke="#f2b600" stroke-width="1.52" stroke-linecap="round"/>
<line x1="454.86" y1="180.85" x2="454.28" y2="181.25" stroke="#f2b600" stroke-width="1.46" stroke-linecap="round"/>
<line x1="454.28" y1="181.25" x2="453.75" y2="181.65" stroke="#f2b600" stroke-width="1.39" stroke-linecap="round"/>
<line x1="453.75" y1="181.65" x2="453.27" y2="182.05" stroke="#f2b600" stroke-width="1.31" stroke-linecap="round"/>
<line x1="453.27" y1="182.05" x2="452.83" y2="182.45" stroke="#f2b600" stroke-width="1.24" stroke-linecap="round"/>
<line x1="452.83" y1="182.45" x2="452.45" y2="182.85" stroke="#f2b600" stroke-width="1.16" stroke-linecap="round"/>
<line x1="452.45" y1="182.85" x2="452.11" y2="183.25" stroke="#f2b600" stroke-width="1.07" stroke-linecap="round"/>
<line x1="452.11" y1="183.25" x2="451.83" y2="183.65" stroke="#f2b600" stroke-width="0.99" stroke-linecap="round"/>
<line x1="451.83" y1="183.65" x2="451.61" y2="184.05" stroke="#f2b600" stroke-width="0.90" stroke-linecap="round"/>
<line x1="451.61" y1="184.05" x2="451.45" y2="184.45" stroke="#f2b600" stroke-width="0.81" stroke-linecap="round"/>
<line x1="451.45" y1="184.45" x2="451.35" y2="184.85" stroke="#f2b600" stroke-width="0.71" stroke-linecap="round"/>
<line x1="451.35" y1="184.85" x2="451.30" y2="185.25" stroke="#f2b600" stroke-width="0.62" stroke-linecap="round"/>
<line x1="471.28" y1="201.28" x2="471.30" y2="201.68" stroke="#f2b600" stroke-width="0.62" stroke-linecap="round"/>
<line x1="471.30" y1="201.68" x2="471.26" y2="202.08" stroke="#f2b600" stroke-width="0.71" stroke-linecap="round"/>
<line x1="471.26" y1="202.08" x2="471.15" y2="202.48" stroke="#f2b600" stroke-width="0.80" stroke-linecap="round"/>
<line x1="471.15" y1="202.48" x2="470.99" y2="202.89" stroke="#f2b600" stroke-width="0.90" stroke-linecap="round"/>
<line x1="470.99" y1="202.89" x2="470.77" y2="203.29" stroke="#f2b600" stroke-width="0.98" stroke-linecap="round"/>
<line x1="470.77" y1="203.29" x2="470.50" y2="203.69" stroke="#f2b600" stroke-width="1.07" stroke-linecap="round"/>
<line x1="470.50" y1="203.69" x2="470.17" y2="204.09" stroke="#f2b600" stroke-width="1.16" stroke-linecap="round"/>
<line x1="470.17" y1="204.09" x2="469.78" y2="204.49" stroke="#f2b600" stroke-width="1.24" stroke-linecap="round"/>
<line x1="469.78" y1="204.49" x2="469.35" y2="204.89" stroke="#f2b600" stroke-width="1.31" stroke-linecap="round"/>
<line x1="469.35" y1="204.89" x2="468.86" y2="205.29" stroke="#f2b600" stroke-width="1.39" stroke-linecap="round"/>
<line x1="468.86" y1="205.29" x2="468.33" y2="205.69" stroke="#f2b600" stroke-width="1.45" stroke-linecap="round"/>
<line x1="468.33" y1="205.69" x2="467.76" y2="206.09" stroke="#f2b600" stroke-width="1.52" stroke-linecap="round"/>
<line x1="467.76" y1="206.09" x2="467.15" y2="206.49" stroke="#f2b600" stroke-width="1.57" stroke-linecap="round"/>
<line x1="467.15" y1="206.49" x2="466.51" y2="206.89" stroke="#f2b600" stroke-width="1.62" stroke-linecap="round"/>
<line x1="466.51" y1="206.89" x2="465.83" y2="207.29" stroke="#f2b600" stroke-width="1.67" stroke-linecap="round"/>
<line x1="465.83" y1="207.29" x2="465.13" y2="207.69" stroke="#f2b600" stroke-width="1.71" stroke-linecap="round"/>
<line x1="465.13" y1="207.69" x2="464.40" y2="208.09" stroke="#f2b600" stroke-width="1.74" stroke-linecap="round"/>
<line x1="464.40" y1="208.09" x2="463.66" y2="208.50" stroke="#f2b600" stroke-width="1.77" stroke-linecap="round"/>
<line x1="463.66" y1="208.50" x2="462.90" y2="208.90" stroke="#f2b600" stroke-width="1.78" stroke-linecap="round"/>
<line x1="462.90" y1="208.90" x2="462.13" y2="209.30" stroke="#f2b600" stroke-width="1.80" stroke-linecap="round"/>
<line x1="462.13" y1="209.30" x2="461.35" y2="209.70" stroke="#f2b600" stroke-width="1.80" stroke-linecap="round"/>
<line x1="461.35" y1="209.70" x2="460.58" y2="210.10" stroke="#f2b600" stroke-width="1.80" stroke-linecap="round"/>
<line x1="460.58" y1="210.10" x2="459.81" y2="210.50" stroke="#f2b600" stroke-width="1.79" stroke-linecap="round"/>
<line x1="459.81" y1="210.50" x2="459.05" y2="210.90" stroke="#f2b600" stroke-width="1.77" stroke-linecap="round"/>
<line x1="459.05" y1="210.90" x2="458.30" y2="211.30" stroke="#f2b600" stroke-width="1.74" stroke-linecap="round"/>
<line x1="459.6" y1="211.0" x2="464.2" y2="223.2" stroke="#000" stroke-width="1.3"/>
</svg>
</body></html>
